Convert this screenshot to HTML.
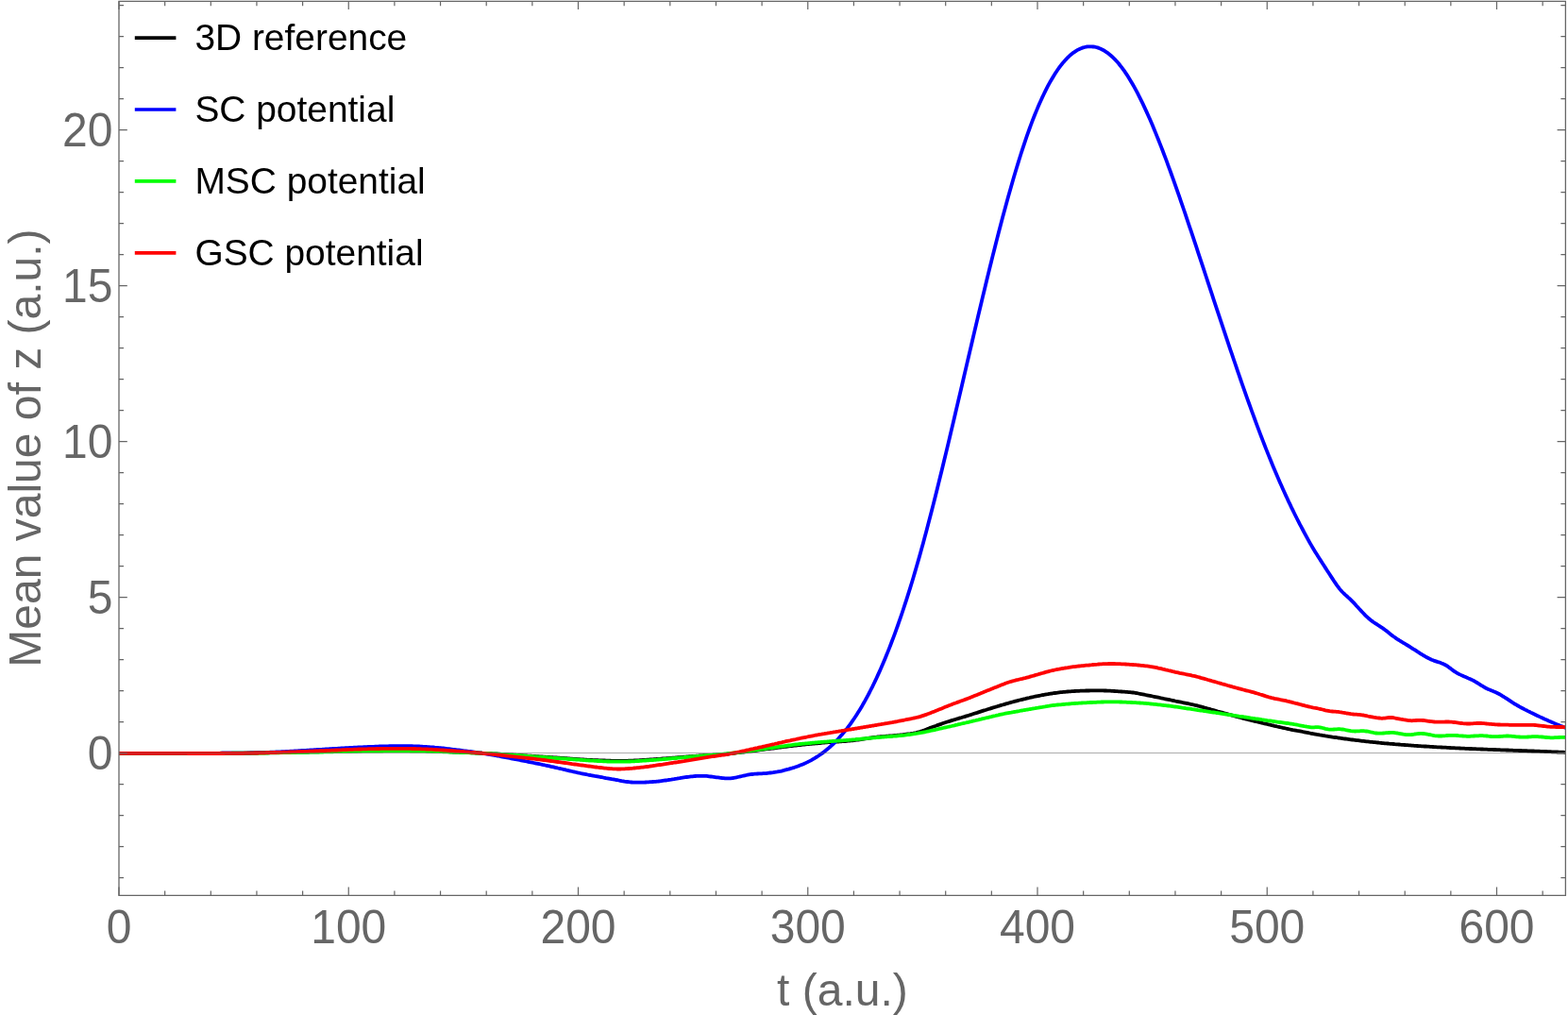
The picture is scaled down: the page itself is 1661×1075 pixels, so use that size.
<!DOCTYPE html>
<html><head><meta charset="utf-8"><title>Mean value of z</title>
<style>
html,body{margin:0;padding:0;background:#fff;}
body{width:1661px;height:1075px;overflow:hidden;}
svg{display:block;}
text{font-family:"Liberation Sans",sans-serif;}
.tl{font-size:48px;fill:#666666;}
.al{font-size:48px;fill:#666666;}
.lg{font-size:38.9px;fill:#000;}
.c{fill:none;stroke-width:3.8;stroke-linejoin:round;stroke-linecap:butt;}
</style></head><body>
<svg width="1661" height="1075" viewBox="0 0 1661 1075">
<rect width="1661" height="1075" fill="#fff"/>
<defs><clipPath id="cp"><rect x="126.0" y="1.3" width="1532.4" height="947.1"/></clipPath></defs>

<g clip-path="url(#cp)">
<path class="c" stroke="#000" d="M120.0,797.8 L121.5,797.8 L123.0,797.8 L124.5,797.8 L126.0,797.8 L127.5,797.8 L129.0,797.8 L130.5,797.8 L132.0,797.8 L133.5,797.8 L135.0,797.8 L136.5,797.8 L138.0,797.8 L139.5,797.8 L141.0,797.8 L142.5,797.8 L144.0,797.8 L145.5,797.8 L147.0,797.8 L148.5,797.8 L150.0,797.8 L151.5,797.8 L153.0,797.8 L154.5,797.8 L156.0,797.8 L157.5,797.8 L159.0,797.8 L160.5,797.8 L162.0,797.8 L163.5,797.8 L165.0,797.8 L166.5,797.8 L168.0,797.8 L169.5,797.8 L171.0,797.8 L172.5,797.8 L174.0,797.8 L175.5,797.8 L177.0,797.8 L178.5,797.8 L180.0,797.8 L181.5,797.8 L183.0,797.8 L184.5,797.8 L186.0,797.8 L187.5,797.8 L189.0,797.8 L190.5,797.8 L192.0,797.8 L193.5,797.8 L195.0,797.8 L196.5,797.8 L198.0,797.8 L199.5,797.8 L201.0,797.8 L202.5,797.8 L204.0,797.8 L205.5,797.8 L207.0,797.8 L208.5,797.8 L210.0,797.8 L211.5,797.8 L213.0,797.8 L214.5,797.8 L216.0,797.8 L217.5,797.8 L219.0,797.8 L220.5,797.8 L222.0,797.8 L223.5,797.8 L225.0,797.8 L226.5,797.8 L228.0,797.8 L229.5,797.8 L231.0,797.8 L232.5,797.8 L234.0,797.7 L235.5,797.7 L237.0,797.7 L238.5,797.7 L240.0,797.7 L241.5,797.7 L243.0,797.7 L244.5,797.7 L246.0,797.7 L247.5,797.7 L249.0,797.7 L250.5,797.7 L252.0,797.7 L253.5,797.6 L255.0,797.6 L256.5,797.6 L258.0,797.6 L259.5,797.6 L261.0,797.6 L262.5,797.6 L264.0,797.6 L265.5,797.5 L267.0,797.5 L268.5,797.5 L270.0,797.5 L271.5,797.5 L273.0,797.5 L274.5,797.4 L276.0,797.4 L277.5,797.4 L279.0,797.4 L280.5,797.3 L282.0,797.3 L283.5,797.3 L285.0,797.3 L286.5,797.2 L288.0,797.2 L289.5,797.2 L291.0,797.2 L292.5,797.1 L294.0,797.1 L295.5,797.1 L297.0,797.1 L298.5,797.0 L300.0,797.0 L301.5,797.0 L303.0,796.9 L304.5,796.9 L306.0,796.9 L307.5,796.9 L309.0,796.8 L310.5,796.8 L312.0,796.8 L313.5,796.7 L315.0,796.7 L316.5,796.7 L318.0,796.7 L319.5,796.6 L321.0,796.6 L322.5,796.6 L324.0,796.5 L325.5,796.5 L327.0,796.5 L328.5,796.4 L330.0,796.4 L331.5,796.4 L333.0,796.3 L334.5,796.3 L336.0,796.3 L337.5,796.3 L339.0,796.2 L340.5,796.2 L342.0,796.2 L343.5,796.1 L345.0,796.1 L346.5,796.1 L348.0,796.0 L349.5,796.0 L351.0,795.9 L352.5,795.9 L354.0,795.9 L355.5,795.8 L357.0,795.8 L358.5,795.8 L360.0,795.7 L361.5,795.7 L363.0,795.7 L364.5,795.6 L366.0,795.6 L367.5,795.6 L369.0,795.5 L370.5,795.5 L372.0,795.5 L373.5,795.4 L375.0,795.4 L376.5,795.4 L378.0,795.3 L379.5,795.3 L381.0,795.3 L382.5,795.3 L384.0,795.2 L385.5,795.2 L387.0,795.2 L388.5,795.2 L390.0,795.1 L391.5,795.1 L393.0,795.1 L394.5,795.1 L396.0,795.1 L397.5,795.0 L399.0,795.0 L400.5,795.0 L402.0,795.0 L403.5,795.0 L405.0,794.9 L406.5,794.9 L408.0,794.9 L409.5,794.9 L411.0,794.9 L412.5,794.9 L414.0,794.9 L415.5,794.9 L417.0,794.9 L418.5,794.9 L420.0,794.9 L421.5,794.9 L423.0,794.9 L424.5,794.9 L426.0,794.9 L427.5,794.9 L429.0,794.9 L430.5,794.9 L432.0,794.9 L433.5,794.9 L435.0,794.9 L436.5,795.0 L438.0,795.0 L439.5,795.0 L441.0,795.0 L442.5,795.0 L444.0,795.1 L445.5,795.1 L447.0,795.2 L448.5,795.2 L450.0,795.2 L451.5,795.3 L453.0,795.3 L454.5,795.4 L456.0,795.4 L457.5,795.5 L459.0,795.5 L460.5,795.6 L462.0,795.7 L463.5,795.7 L465.0,795.8 L466.5,795.8 L468.0,795.9 L469.5,796.0 L471.0,796.0 L472.5,796.1 L474.0,796.2 L475.5,796.2 L477.0,796.3 L478.5,796.4 L480.0,796.5 L481.5,796.5 L483.0,796.6 L484.5,796.7 L486.0,796.7 L487.5,796.8 L489.0,796.9 L490.5,796.9 L492.0,797.0 L493.5,797.0 L495.0,797.1 L496.5,797.2 L498.0,797.2 L499.5,797.3 L501.0,797.3 L502.5,797.4 L504.0,797.5 L505.5,797.5 L507.0,797.6 L508.5,797.6 L510.0,797.7 L511.5,797.8 L513.0,797.8 L514.5,797.9 L516.0,798.0 L517.5,798.0 L519.0,798.1 L520.5,798.2 L522.0,798.3 L523.5,798.3 L525.0,798.4 L526.5,798.5 L528.0,798.6 L529.5,798.7 L531.0,798.8 L532.5,798.8 L534.0,798.9 L535.5,799.0 L537.0,799.1 L538.5,799.2 L540.0,799.3 L541.5,799.4 L543.0,799.5 L544.5,799.6 L546.0,799.7 L547.5,799.8 L549.0,799.9 L550.5,800.0 L552.0,800.1 L553.5,800.2 L555.0,800.3 L556.5,800.4 L558.0,800.5 L559.5,800.6 L561.0,800.7 L562.5,800.7 L564.0,800.8 L565.5,800.9 L567.0,801.0 L568.5,801.1 L570.0,801.2 L571.5,801.3 L573.0,801.4 L574.5,801.5 L576.0,801.6 L577.5,801.7 L579.0,801.8 L580.5,801.9 L582.0,802.0 L583.5,802.1 L585.0,802.2 L586.5,802.3 L588.0,802.4 L589.5,802.5 L591.0,802.6 L592.5,802.7 L594.0,802.8 L595.5,802.9 L597.0,803.0 L598.5,803.1 L600.0,803.2 L601.5,803.4 L603.0,803.5 L604.5,803.6 L606.0,803.7 L607.5,803.8 L609.0,803.9 L610.5,804.0 L612.0,804.1 L613.5,804.2 L615.0,804.3 L616.5,804.4 L618.0,804.5 L619.5,804.6 L621.0,804.7 L622.5,804.8 L624.0,804.8 L625.5,804.9 L627.0,805.0 L628.5,805.1 L630.0,805.1 L631.5,805.2 L633.0,805.2 L634.5,805.3 L636.0,805.4 L637.5,805.4 L639.0,805.5 L640.5,805.5 L642.0,805.6 L643.5,805.6 L645.0,805.7 L646.5,805.7 L648.0,805.8 L649.5,805.8 L651.0,805.8 L652.5,805.9 L654.0,805.9 L655.5,805.9 L657.0,805.9 L658.5,805.9 L660.0,805.9 L661.5,805.9 L663.0,805.8 L664.5,805.8 L666.0,805.7 L667.5,805.7 L669.0,805.6 L670.5,805.6 L672.0,805.5 L673.5,805.4 L675.0,805.3 L676.5,805.3 L678.0,805.2 L679.5,805.1 L681.0,805.0 L682.5,804.9 L684.0,804.8 L685.5,804.7 L687.0,804.6 L688.5,804.5 L690.0,804.4 L691.5,804.3 L693.0,804.2 L694.5,804.1 L696.0,804.0 L697.5,803.9 L699.0,803.8 L700.5,803.6 L702.0,803.5 L703.5,803.4 L705.0,803.3 L706.5,803.2 L708.0,803.1 L709.5,802.9 L711.0,802.8 L712.5,802.7 L714.0,802.6 L715.5,802.5 L717.0,802.3 L718.5,802.2 L720.0,802.1 L721.5,802.0 L723.0,801.9 L724.5,801.7 L726.0,801.6 L727.5,801.5 L729.0,801.4 L730.5,801.2 L732.0,801.1 L733.5,801.0 L735.0,800.9 L736.5,800.8 L738.0,800.7 L739.5,800.6 L741.0,800.5 L742.5,800.4 L744.0,800.3 L745.5,800.2 L747.0,800.1 L748.5,800.1 L750.0,800.0 L751.5,799.9 L753.0,799.8 L754.5,799.8 L756.0,799.7 L757.5,799.6 L759.0,799.5 L760.5,799.4 L762.0,799.3 L763.5,799.2 L765.0,799.1 L766.5,799.0 L768.0,798.8 L769.5,798.7 L771.0,798.5 L772.5,798.3 L774.0,798.1 L775.5,798.0 L777.0,797.8 L778.5,797.6 L780.0,797.4 L781.5,797.2 L783.0,797.0 L784.5,796.9 L786.0,796.7 L787.5,796.5 L789.0,796.3 L790.5,796.1 L792.0,795.9 L793.5,795.7 L795.0,795.5 L796.5,795.3 L798.0,795.1 L799.5,795.0 L801.0,794.8 L802.5,794.6 L804.0,794.4 L805.5,794.2 L807.0,794.0 L808.5,793.8 L810.0,793.6 L811.5,793.4 L813.0,793.2 L814.5,793.0 L816.0,792.9 L817.5,792.7 L819.0,792.5 L820.5,792.3 L822.0,792.1 L823.5,791.9 L825.0,791.7 L826.5,791.5 L828.0,791.3 L829.5,791.1 L831.0,790.9 L832.5,790.8 L834.0,790.6 L835.5,790.4 L837.0,790.2 L838.5,790.0 L840.0,789.8 L841.5,789.6 L843.0,789.5 L844.5,789.3 L846.0,789.1 L847.5,789.0 L849.0,788.8 L850.5,788.7 L852.0,788.5 L853.5,788.4 L855.0,788.2 L856.5,788.1 L858.0,787.9 L859.5,787.8 L861.0,787.7 L862.5,787.5 L864.0,787.4 L865.5,787.3 L867.0,787.1 L868.5,787.0 L870.0,786.8 L871.5,786.7 L873.0,786.6 L874.5,786.4 L876.0,786.3 L877.5,786.2 L879.0,786.1 L880.5,786.0 L882.0,785.9 L883.5,785.8 L885.0,785.7 L886.5,785.6 L888.0,785.5 L889.5,785.4 L891.0,785.3 L892.5,785.2 L894.0,785.1 L895.5,785.0 L897.0,784.9 L898.5,784.7 L900.0,784.6 L901.5,784.4 L903.0,784.3 L904.5,784.1 L906.0,783.9 L907.5,783.7 L909.0,783.5 L910.5,783.3 L912.0,783.1 L913.5,782.8 L915.0,782.6 L916.5,782.4 L918.0,782.1 L919.5,781.9 L921.0,781.7 L922.5,781.5 L924.0,781.2 L925.5,781.0 L927.0,780.8 L928.5,780.7 L930.0,780.5 L931.5,780.3 L933.0,780.2 L934.5,780.1 L936.0,780.0 L937.5,779.8 L939.0,779.7 L940.5,779.6 L942.0,779.5 L943.5,779.4 L945.0,779.3 L946.5,779.1 L948.0,779.0 L949.5,778.9 L951.0,778.7 L952.5,778.6 L954.0,778.4 L955.5,778.3 L957.0,778.1 L958.5,777.9 L960.0,777.7 L961.5,777.5 L963.0,777.3 L964.5,777.1 L966.0,776.8 L967.5,776.6 L969.0,776.3 L970.5,776.1 L972.0,775.7 L973.5,775.3 L975.0,774.9 L976.5,774.4 L978.0,773.8 L979.5,773.3 L981.0,772.7 L982.5,772.1 L984.0,771.5 L985.5,770.8 L987.0,770.3 L988.5,769.7 L990.0,769.2 L991.5,768.7 L993.0,768.1 L994.5,767.6 L996.0,767.1 L997.5,766.6 L999.0,766.0 L1000.5,765.5 L1002.0,765.0 L1003.5,764.5 L1005.0,764.1 L1006.5,763.6 L1008.0,763.1 L1009.5,762.7 L1011.0,762.2 L1012.5,761.8 L1014.0,761.3 L1015.5,760.9 L1017.0,760.4 L1018.5,760.0 L1020.0,759.5 L1021.5,759.1 L1023.0,758.6 L1024.5,758.2 L1026.0,757.7 L1027.5,757.2 L1029.0,756.8 L1030.5,756.3 L1032.0,755.8 L1033.5,755.3 L1035.0,754.9 L1036.5,754.4 L1038.0,753.9 L1039.5,753.4 L1041.0,752.9 L1042.5,752.4 L1044.0,752.0 L1045.5,751.5 L1047.0,751.0 L1048.5,750.6 L1050.0,750.1 L1051.5,749.6 L1053.0,749.2 L1054.5,748.7 L1056.0,748.3 L1057.5,747.8 L1059.0,747.4 L1060.5,746.9 L1062.0,746.5 L1063.5,746.1 L1065.0,745.6 L1066.5,745.2 L1068.0,744.8 L1069.5,744.3 L1071.0,743.9 L1072.5,743.5 L1074.0,743.1 L1075.5,742.7 L1077.0,742.3 L1078.5,741.9 L1080.0,741.5 L1081.5,741.2 L1083.0,740.8 L1084.5,740.4 L1086.0,740.1 L1087.5,739.7 L1089.0,739.3 L1090.5,739.0 L1092.0,738.6 L1093.5,738.3 L1095.0,738.0 L1096.5,737.7 L1098.0,737.4 L1099.5,737.1 L1101.0,736.8 L1102.5,736.5 L1104.0,736.2 L1105.5,736.0 L1107.0,735.7 L1108.5,735.4 L1110.0,735.2 L1111.5,734.9 L1113.0,734.7 L1114.5,734.5 L1116.0,734.2 L1117.5,734.0 L1119.0,733.8 L1120.5,733.6 L1122.0,733.4 L1123.5,733.2 L1125.0,733.1 L1126.5,732.9 L1128.0,732.8 L1129.5,732.6 L1131.0,732.5 L1132.5,732.4 L1134.0,732.3 L1135.5,732.2 L1137.0,732.1 L1138.5,732.0 L1140.0,731.9 L1141.5,731.8 L1143.0,731.8 L1144.5,731.7 L1146.0,731.7 L1147.5,731.6 L1149.0,731.6 L1150.5,731.5 L1152.0,731.5 L1153.5,731.5 L1155.0,731.4 L1156.5,731.4 L1158.0,731.4 L1159.5,731.4 L1161.0,731.4 L1162.5,731.4 L1164.0,731.4 L1165.5,731.4 L1167.0,731.4 L1168.5,731.4 L1170.0,731.5 L1171.5,731.5 L1173.0,731.6 L1174.5,731.6 L1176.0,731.7 L1177.5,731.8 L1179.0,731.9 L1180.5,732.0 L1182.0,732.1 L1183.5,732.2 L1185.0,732.3 L1186.5,732.4 L1188.0,732.5 L1189.5,732.6 L1191.0,732.7 L1192.5,732.8 L1194.0,732.9 L1195.5,733.1 L1197.0,733.2 L1198.5,733.4 L1200.0,733.5 L1201.5,733.7 L1203.0,734.0 L1204.5,734.2 L1206.0,734.5 L1207.5,734.8 L1209.0,735.1 L1210.5,735.4 L1212.0,735.7 L1213.5,736.0 L1215.0,736.3 L1216.5,736.6 L1218.0,736.9 L1219.5,737.2 L1221.0,737.5 L1222.5,737.8 L1224.0,738.1 L1225.5,738.4 L1227.0,738.7 L1228.5,739.0 L1230.0,739.4 L1231.5,739.7 L1233.0,740.0 L1234.5,740.3 L1236.0,740.6 L1237.5,740.9 L1239.0,741.2 L1240.5,741.5 L1242.0,741.8 L1243.5,742.1 L1245.0,742.5 L1246.5,742.8 L1248.0,743.1 L1249.5,743.4 L1251.0,743.7 L1252.5,744.0 L1254.0,744.3 L1255.5,744.6 L1257.0,744.9 L1258.5,745.2 L1260.0,745.5 L1261.5,745.9 L1263.0,746.2 L1264.5,746.5 L1266.0,746.9 L1267.5,747.2 L1269.0,747.6 L1270.5,748.0 L1272.0,748.4 L1273.5,748.8 L1275.0,749.2 L1276.5,749.7 L1278.0,750.1 L1279.5,750.5 L1281.0,750.9 L1282.5,751.4 L1284.0,751.8 L1285.5,752.2 L1287.0,752.6 L1288.5,753.0 L1290.0,753.5 L1291.5,753.9 L1293.0,754.3 L1294.5,754.7 L1296.0,755.1 L1297.5,755.5 L1299.0,755.9 L1300.5,756.3 L1302.0,756.8 L1303.5,757.2 L1305.0,757.6 L1306.5,758.0 L1308.0,758.4 L1309.5,758.8 L1311.0,759.2 L1312.5,759.6 L1314.0,760.0 L1315.5,760.4 L1317.0,760.8 L1318.5,761.2 L1320.0,761.6 L1321.5,761.9 L1323.0,762.3 L1324.5,762.7 L1326.0,763.1 L1327.5,763.4 L1329.0,763.8 L1330.5,764.2 L1332.0,764.5 L1333.5,764.9 L1335.0,765.2 L1336.5,765.6 L1338.0,766.0 L1339.5,766.3 L1341.0,766.7 L1342.5,767.0 L1344.0,767.4 L1345.5,767.7 L1347.0,768.1 L1348.5,768.4 L1350.0,768.8 L1351.5,769.1 L1353.0,769.5 L1354.5,769.8 L1356.0,770.2 L1357.5,770.5 L1359.0,770.9 L1360.5,771.2 L1362.0,771.5 L1363.5,771.8 L1365.0,772.2 L1366.5,772.5 L1368.0,772.8 L1369.5,773.1 L1371.0,773.3 L1372.5,773.6 L1374.0,773.9 L1375.5,774.1 L1377.0,774.4 L1378.5,774.7 L1380.0,775.0 L1381.5,775.3 L1383.0,775.6 L1384.5,775.9 L1386.0,776.2 L1387.5,776.5 L1389.0,776.8 L1390.5,777.0 L1392.0,777.3 L1393.5,777.6 L1395.0,777.9 L1396.5,778.1 L1398.0,778.4 L1399.5,778.6 L1401.0,778.9 L1402.5,779.1 L1404.0,779.4 L1405.5,779.6 L1407.0,779.9 L1408.5,780.1 L1410.0,780.3 L1411.5,780.6 L1413.0,780.8 L1414.5,781.0 L1416.0,781.2 L1417.5,781.5 L1419.0,781.7 L1420.5,781.9 L1422.0,782.1 L1423.5,782.3 L1425.0,782.5 L1426.5,782.7 L1428.0,782.9 L1429.5,783.1 L1431.0,783.3 L1432.5,783.5 L1434.0,783.7 L1435.5,783.9 L1437.0,784.1 L1438.5,784.2 L1440.0,784.4 L1441.5,784.6 L1443.0,784.8 L1444.5,784.9 L1446.0,785.1 L1447.5,785.3 L1449.0,785.4 L1450.5,785.6 L1452.0,785.8 L1453.5,785.9 L1455.0,786.1 L1456.5,786.2 L1458.0,786.4 L1459.5,786.5 L1461.0,786.7 L1462.5,786.8 L1464.0,787.0 L1465.5,787.1 L1467.0,787.3 L1468.5,787.4 L1470.0,787.5 L1471.5,787.7 L1473.0,787.8 L1474.5,787.9 L1476.0,788.0 L1477.5,788.2 L1479.0,788.3 L1480.5,788.4 L1482.0,788.5 L1483.5,788.7 L1485.0,788.8 L1486.5,788.9 L1488.0,789.0 L1489.5,789.1 L1491.0,789.2 L1492.5,789.3 L1494.0,789.4 L1495.5,789.6 L1497.0,789.7 L1498.5,789.8 L1500.0,789.9 L1501.5,790.0 L1503.0,790.1 L1504.5,790.2 L1506.0,790.3 L1507.5,790.4 L1509.0,790.5 L1510.5,790.5 L1512.0,790.6 L1513.5,790.7 L1515.0,790.8 L1516.5,790.9 L1518.0,791.0 L1519.5,791.1 L1521.0,791.2 L1522.5,791.3 L1524.0,791.3 L1525.5,791.4 L1527.0,791.5 L1528.5,791.6 L1530.0,791.7 L1531.5,791.7 L1533.0,791.8 L1534.5,791.9 L1536.0,792.0 L1537.5,792.1 L1539.0,792.1 L1540.5,792.2 L1542.0,792.3 L1543.5,792.3 L1545.0,792.4 L1546.5,792.5 L1548.0,792.6 L1549.5,792.6 L1551.0,792.7 L1552.5,792.8 L1554.0,792.8 L1555.5,792.9 L1557.0,793.0 L1558.5,793.0 L1560.0,793.1 L1561.5,793.2 L1563.0,793.2 L1564.5,793.3 L1566.0,793.3 L1567.5,793.4 L1569.0,793.5 L1570.5,793.5 L1572.0,793.6 L1573.5,793.6 L1575.0,793.7 L1576.5,793.8 L1578.0,793.8 L1579.5,793.9 L1581.0,793.9 L1582.5,794.0 L1584.0,794.0 L1585.5,794.1 L1587.0,794.2 L1588.5,794.2 L1590.0,794.3 L1591.5,794.3 L1593.0,794.4 L1594.5,794.4 L1596.0,794.5 L1597.5,794.5 L1599.0,794.6 L1600.5,794.7 L1602.0,794.7 L1603.5,794.8 L1605.0,794.8 L1606.5,794.9 L1608.0,794.9 L1609.5,795.0 L1611.0,795.0 L1612.5,795.1 L1614.0,795.1 L1615.5,795.2 L1617.0,795.2 L1618.5,795.3 L1620.0,795.4 L1621.5,795.4 L1623.0,795.5 L1624.5,795.5 L1626.0,795.6 L1627.5,795.6 L1629.0,795.7 L1630.5,795.7 L1632.0,795.8 L1633.5,795.9 L1635.0,795.9 L1636.5,796.0 L1638.0,796.0 L1639.5,796.1 L1641.0,796.1 L1642.5,796.2 L1644.0,796.3 L1645.5,796.3 L1647.0,796.4 L1648.5,796.4 L1650.0,796.5 L1651.5,796.6 L1653.0,796.6 L1654.5,796.7 L1656.0,796.7 L1657.5,796.8 L1659.0,796.9 L1660.5,796.9 L1662.0,797.0 L1663.5,797.1 L1664.0,797.1"/>
<path class="c" stroke="#0000ff" d="M120.0,797.8 L121.5,797.8 L123.0,797.8 L124.5,797.8 L126.0,797.8 L127.5,797.8 L129.0,797.8 L130.5,797.8 L132.0,797.8 L133.5,797.8 L135.0,797.8 L136.5,797.8 L138.0,797.8 L139.5,797.8 L141.0,797.8 L142.5,797.8 L144.0,797.8 L145.5,797.8 L147.0,797.8 L148.5,797.8 L150.0,797.8 L151.5,797.8 L153.0,797.8 L154.5,797.8 L156.0,797.8 L157.5,797.8 L159.0,797.8 L160.5,797.8 L162.0,797.8 L163.5,797.8 L165.0,797.8 L166.5,797.8 L168.0,797.8 L169.5,797.8 L171.0,797.8 L172.5,797.8 L174.0,797.8 L175.5,797.8 L177.0,797.8 L178.5,797.8 L180.0,797.8 L181.5,797.8 L183.0,797.8 L184.5,797.8 L186.0,797.8 L187.5,797.8 L189.0,797.8 L190.5,797.8 L192.0,797.8 L193.5,797.8 L195.0,797.8 L196.5,797.8 L198.0,797.8 L199.5,797.8 L201.0,797.8 L202.5,797.8 L204.0,797.8 L205.5,797.8 L207.0,797.8 L208.5,797.8 L210.0,797.8 L211.5,797.8 L213.0,797.8 L214.5,797.8 L216.0,797.8 L217.5,797.8 L219.0,797.8 L220.5,797.8 L222.0,797.8 L223.5,797.8 L225.0,797.8 L226.5,797.8 L228.0,797.8 L229.5,797.8 L231.0,797.8 L232.5,797.8 L234.0,797.8 L235.5,797.7 L237.0,797.7 L238.5,797.7 L240.0,797.7 L241.5,797.7 L243.0,797.7 L244.5,797.7 L246.0,797.7 L247.5,797.7 L249.0,797.7 L250.5,797.7 L252.0,797.7 L253.5,797.7 L255.0,797.7 L256.5,797.6 L258.0,797.6 L259.5,797.6 L261.0,797.6 L262.5,797.5 L264.0,797.5 L265.5,797.5 L267.0,797.4 L268.5,797.4 L270.0,797.3 L271.5,797.3 L273.0,797.2 L274.5,797.2 L276.0,797.1 L277.5,797.1 L279.0,797.0 L280.5,797.0 L282.0,796.9 L283.5,796.9 L285.0,796.8 L286.5,796.7 L288.0,796.7 L289.5,796.6 L291.0,796.6 L292.5,796.5 L294.0,796.4 L295.5,796.4 L297.0,796.3 L298.5,796.2 L300.0,796.1 L301.5,796.1 L303.0,796.0 L304.5,795.9 L306.0,795.8 L307.5,795.7 L309.0,795.7 L310.5,795.6 L312.0,795.5 L313.5,795.4 L315.0,795.3 L316.5,795.2 L318.0,795.1 L319.5,795.0 L321.0,794.9 L322.5,794.9 L324.0,794.8 L325.5,794.7 L327.0,794.6 L328.5,794.5 L330.0,794.4 L331.5,794.3 L333.0,794.2 L334.5,794.1 L336.0,794.0 L337.5,794.0 L339.0,793.9 L340.5,793.8 L342.0,793.7 L343.5,793.6 L345.0,793.5 L346.5,793.4 L348.0,793.3 L349.5,793.2 L351.0,793.1 L352.5,793.0 L354.0,793.0 L355.5,792.9 L357.0,792.8 L358.5,792.7 L360.0,792.6 L361.5,792.5 L363.0,792.4 L364.5,792.3 L366.0,792.2 L367.5,792.1 L369.0,792.1 L370.5,792.0 L372.0,791.9 L373.5,791.8 L375.0,791.7 L376.5,791.6 L378.0,791.6 L379.5,791.5 L381.0,791.4 L382.5,791.3 L384.0,791.3 L385.5,791.2 L387.0,791.1 L388.5,791.1 L390.0,791.0 L391.5,790.9 L393.0,790.9 L394.5,790.8 L396.0,790.8 L397.5,790.7 L399.0,790.6 L400.5,790.6 L402.0,790.5 L403.5,790.5 L405.0,790.4 L406.5,790.4 L408.0,790.3 L409.5,790.3 L411.0,790.3 L412.5,790.2 L414.0,790.2 L415.5,790.2 L417.0,790.2 L418.5,790.1 L420.0,790.1 L421.5,790.1 L423.0,790.1 L424.5,790.1 L426.0,790.1 L427.5,790.1 L429.0,790.1 L430.5,790.1 L432.0,790.1 L433.5,790.2 L435.0,790.2 L436.5,790.2 L438.0,790.3 L439.5,790.4 L441.0,790.4 L442.5,790.5 L444.0,790.5 L445.5,790.6 L447.0,790.7 L448.5,790.8 L450.0,790.9 L451.5,791.0 L453.0,791.1 L454.5,791.2 L456.0,791.3 L457.5,791.4 L459.0,791.5 L460.5,791.7 L462.0,791.8 L463.5,791.9 L465.0,792.1 L466.5,792.2 L468.0,792.4 L469.5,792.5 L471.0,792.7 L472.5,792.9 L474.0,793.1 L475.5,793.2 L477.0,793.4 L478.5,793.6 L480.0,793.8 L481.5,793.9 L483.0,794.1 L484.5,794.3 L486.0,794.5 L487.5,794.7 L489.0,794.9 L490.5,795.1 L492.0,795.3 L493.5,795.4 L495.0,795.6 L496.5,795.8 L498.0,796.0 L499.5,796.2 L501.0,796.4 L502.5,796.6 L504.0,796.8 L505.5,797.0 L507.0,797.3 L508.5,797.5 L510.0,797.7 L511.5,797.9 L513.0,798.2 L514.5,798.4 L516.0,798.6 L517.5,798.9 L519.0,799.2 L520.5,799.4 L522.0,799.7 L523.5,799.9 L525.0,800.2 L526.5,800.5 L528.0,800.7 L529.5,801.0 L531.0,801.3 L532.5,801.6 L534.0,801.9 L535.5,802.1 L537.0,802.4 L538.5,802.7 L540.0,803.0 L541.5,803.3 L543.0,803.6 L544.5,803.9 L546.0,804.2 L547.5,804.4 L549.0,804.7 L550.5,805.0 L552.0,805.3 L553.5,805.6 L555.0,805.9 L556.5,806.2 L558.0,806.5 L559.5,806.8 L561.0,807.1 L562.5,807.4 L564.0,807.7 L565.5,808.0 L567.0,808.3 L568.5,808.6 L570.0,808.9 L571.5,809.2 L573.0,809.5 L574.5,809.9 L576.0,810.2 L577.5,810.5 L579.0,810.8 L580.5,811.1 L582.0,811.4 L583.5,811.8 L585.0,812.1 L586.5,812.4 L588.0,812.8 L589.5,813.1 L591.0,813.5 L592.5,813.8 L594.0,814.2 L595.5,814.5 L597.0,814.9 L598.5,815.2 L600.0,815.6 L601.5,815.9 L603.0,816.3 L604.5,816.7 L606.0,817.0 L607.5,817.3 L609.0,817.7 L610.5,818.0 L612.0,818.4 L613.5,818.7 L615.0,819.0 L616.5,819.3 L618.0,819.6 L619.5,819.9 L621.0,820.2 L622.5,820.5 L624.0,820.8 L625.5,821.0 L627.0,821.3 L628.5,821.6 L630.0,821.9 L631.5,822.1 L633.0,822.4 L634.5,822.7 L636.0,823.0 L637.5,823.2 L639.0,823.5 L640.5,823.8 L642.0,824.1 L643.5,824.3 L645.0,824.6 L646.5,824.9 L648.0,825.2 L649.5,825.4 L651.0,825.7 L652.5,826.0 L654.0,826.2 L655.5,826.5 L657.0,826.8 L658.5,827.1 L660.0,827.3 L661.5,827.6 L663.0,827.8 L664.5,828.0 L666.0,828.2 L667.5,828.4 L669.0,828.5 L670.5,828.6 L672.0,828.6 L673.5,828.7 L675.0,828.7 L676.5,828.7 L678.0,828.7 L679.5,828.7 L681.0,828.6 L682.5,828.6 L684.0,828.5 L685.5,828.4 L687.0,828.3 L688.5,828.2 L690.0,828.1 L691.5,828.0 L693.0,827.9 L694.5,827.8 L696.0,827.6 L697.5,827.5 L699.0,827.3 L700.5,827.1 L702.0,826.9 L703.5,826.7 L705.0,826.5 L706.5,826.3 L708.0,826.0 L709.5,825.8 L711.0,825.6 L712.5,825.3 L714.0,825.1 L715.5,824.8 L717.0,824.6 L718.5,824.3 L720.0,824.1 L721.5,823.8 L723.0,823.6 L724.5,823.4 L726.0,823.2 L727.5,823.0 L729.0,822.8 L730.5,822.6 L732.0,822.4 L733.5,822.3 L735.0,822.1 L736.5,822.0 L738.0,821.9 L739.5,821.9 L741.0,821.8 L742.5,821.8 L744.0,821.8 L745.5,821.8 L747.0,821.8 L748.5,821.9 L750.0,822.1 L751.5,822.3 L753.0,822.5 L754.5,822.7 L756.0,822.9 L757.5,823.1 L759.0,823.3 L760.5,823.4 L762.0,823.6 L763.5,823.8 L765.0,824.0 L766.5,824.1 L768.0,824.3 L769.5,824.4 L771.0,824.4 L772.5,824.3 L774.0,824.3 L775.5,824.1 L777.0,824.0 L778.5,823.7 L780.0,823.4 L781.5,823.0 L783.0,822.7 L784.5,822.3 L786.0,822.0 L787.5,821.7 L789.0,821.3 L790.5,821.0 L792.0,820.7 L793.5,820.4 L795.0,820.2 L796.5,820.0 L798.0,819.8 L799.5,819.7 L801.0,819.6 L802.5,819.5 L804.0,819.4 L805.5,819.3 L807.0,819.3 L808.5,819.2 L810.0,819.2 L811.5,819.1 L813.0,818.9 L814.5,818.7 L816.0,818.5 L817.5,818.3 L819.0,818.1 L820.5,817.8 L822.0,817.6 L823.5,817.4 L825.0,817.1 L826.5,816.9 L828.0,816.6 L829.5,816.2 L831.0,815.7 L832.5,815.3 L834.0,814.9 L835.5,814.6 L837.0,814.1 L838.5,813.7 L840.0,813.2 L841.5,812.8 L843.0,812.3 L844.5,811.8 L846.0,811.2 L847.5,810.6 L849.0,810.0 L850.5,809.4 L852.0,808.8 L853.5,808.1 L855.0,807.4 L856.5,806.6 L858.0,805.9 L859.5,805.1 L861.0,804.2 L862.5,803.3 L864.0,802.4 L865.5,801.5 L867.0,800.5 L868.5,799.5 L870.0,798.4 L871.5,797.4 L873.0,796.2 L874.5,795.0 L876.0,793.8 L877.5,792.6 L879.0,791.3 L880.5,789.9 L882.0,788.5 L883.5,787.1 L885.0,785.6 L886.5,784.1 L888.0,782.5 L889.5,780.8 L891.0,779.1 L892.5,777.4 L894.0,775.6 L895.5,773.8 L897.0,771.9 L898.5,769.9 L900.0,767.9 L901.5,765.8 L903.0,763.7 L904.5,761.5 L906.0,759.3 L907.5,757.0 L909.0,754.6 L910.5,752.2 L912.0,749.7 L913.5,747.2 L915.0,744.5 L916.5,741.9 L918.0,739.1 L919.5,736.3 L921.0,733.5 L922.5,730.5 L924.0,727.6 L925.5,724.5 L927.0,721.4 L928.5,718.2 L930.0,714.9 L931.5,711.6 L933.0,708.3 L934.5,704.8 L936.0,701.3 L937.5,697.7 L939.0,694.1 L940.5,690.4 L942.0,686.6 L943.5,682.7 L945.0,678.8 L946.5,674.8 L948.0,670.8 L949.5,666.6 L951.0,662.5 L952.5,658.2 L954.0,653.9 L955.5,649.5 L957.0,645.0 L958.5,640.4 L960.0,635.8 L961.5,631.2 L963.0,626.4 L964.5,621.6 L966.0,616.7 L967.5,611.7 L969.0,606.6 L970.5,601.5 L972.0,596.3 L973.5,591.1 L975.0,585.7 L976.5,580.3 L978.0,574.9 L979.5,569.3 L981.0,563.7 L982.5,558.1 L984.0,552.3 L985.5,546.6 L987.0,540.8 L988.5,534.9 L990.0,529.0 L991.5,523.0 L993.0,517.0 L994.5,510.9 L996.0,504.8 L997.5,498.7 L999.0,492.5 L1000.5,486.3 L1002.0,480.1 L1003.5,473.9 L1005.0,467.6 L1006.5,461.3 L1008.0,454.9 L1009.5,448.6 L1011.0,442.2 L1012.5,435.8 L1014.0,429.4 L1015.5,423.0 L1017.0,416.6 L1018.5,410.2 L1020.0,403.7 L1021.5,397.3 L1023.0,390.9 L1024.5,384.4 L1026.0,378.0 L1027.5,371.6 L1029.0,365.2 L1030.5,358.7 L1032.0,352.4 L1033.5,346.0 L1035.0,339.6 L1036.5,333.3 L1038.0,327.0 L1039.5,320.7 L1041.0,314.4 L1042.5,308.2 L1044.0,302.0 L1045.5,295.8 L1047.0,289.6 L1048.5,283.5 L1050.0,277.5 L1051.5,271.4 L1053.0,265.5 L1054.5,259.5 L1056.0,253.6 L1057.5,247.8 L1059.0,242.0 L1060.5,236.3 L1062.0,230.6 L1063.5,225.0 L1065.0,219.4 L1066.5,214.0 L1068.0,208.5 L1069.5,203.2 L1071.0,197.9 L1072.5,192.7 L1074.0,187.5 L1075.5,182.5 L1077.0,177.5 L1078.5,172.6 L1080.0,167.7 L1081.5,163.0 L1083.0,158.4 L1084.5,153.8 L1086.0,149.3 L1087.5,144.9 L1089.0,140.7 L1090.5,136.5 L1092.0,132.4 L1093.5,128.4 L1095.0,124.5 L1096.5,120.8 L1098.0,117.1 L1099.5,113.5 L1101.0,110.0 L1102.5,106.7 L1104.0,103.4 L1105.5,100.2 L1107.0,97.1 L1108.5,94.1 L1110.0,91.2 L1111.5,88.4 L1113.0,85.8 L1114.5,83.2 L1116.0,80.7 L1117.5,78.3 L1119.0,76.0 L1120.5,73.8 L1122.0,71.7 L1123.5,69.6 L1125.0,67.7 L1126.5,65.9 L1128.0,64.2 L1129.5,62.6 L1131.0,61.0 L1132.5,59.6 L1134.0,58.2 L1135.5,57.0 L1137.0,55.8 L1138.5,54.8 L1140.0,53.8 L1141.5,52.9 L1143.0,52.2 L1144.5,51.5 L1146.0,50.9 L1147.5,50.4 L1149.0,50.0 L1150.5,49.7 L1152.0,49.4 L1153.5,49.3 L1155.0,49.3 L1156.5,49.3 L1158.0,49.5 L1159.5,49.7 L1161.0,50.0 L1162.5,50.4 L1164.0,50.9 L1165.5,51.5 L1167.0,52.2 L1168.5,53.0 L1170.0,53.8 L1171.5,54.8 L1173.0,55.8 L1174.5,57.0 L1176.0,58.2 L1177.5,59.5 L1179.0,60.9 L1180.5,62.4 L1182.0,63.9 L1183.5,65.6 L1185.0,67.3 L1186.5,69.2 L1188.0,71.1 L1189.5,73.1 L1191.0,75.2 L1192.5,77.4 L1194.0,79.6 L1195.5,82.0 L1197.0,84.4 L1198.5,86.9 L1200.0,89.5 L1201.5,92.2 L1203.0,94.9 L1204.5,97.7 L1206.0,100.6 L1207.5,103.6 L1209.0,106.6 L1210.5,109.7 L1212.0,112.9 L1213.5,116.1 L1215.0,119.4 L1216.5,122.7 L1218.0,126.1 L1219.5,129.6 L1221.0,133.1 L1222.5,136.7 L1224.0,140.4 L1225.5,144.1 L1227.0,147.8 L1228.5,151.6 L1230.0,155.4 L1231.5,159.3 L1233.0,163.2 L1234.5,167.2 L1236.0,171.2 L1237.5,175.3 L1239.0,179.4 L1240.5,183.5 L1242.0,187.7 L1243.5,191.9 L1245.0,196.1 L1246.5,200.3 L1248.0,204.6 L1249.5,208.9 L1251.0,213.3 L1252.5,217.6 L1254.0,222.0 L1255.5,226.4 L1257.0,230.9 L1258.5,235.3 L1260.0,239.8 L1261.5,244.2 L1263.0,248.7 L1264.5,253.2 L1266.0,257.7 L1267.5,262.2 L1269.0,266.8 L1270.5,271.3 L1272.0,275.8 L1273.5,280.4 L1275.0,284.9 L1276.5,289.5 L1278.0,294.0 L1279.5,298.6 L1281.0,303.1 L1282.5,307.7 L1284.0,312.2 L1285.5,316.8 L1287.0,321.3 L1288.5,325.8 L1290.0,330.4 L1291.5,334.9 L1293.0,339.4 L1294.5,343.9 L1296.0,348.4 L1297.5,352.9 L1299.0,357.4 L1300.5,361.9 L1302.0,366.4 L1303.5,370.8 L1305.0,375.2 L1306.5,379.6 L1308.0,384.0 L1309.5,388.4 L1311.0,392.8 L1312.5,397.2 L1314.0,401.5 L1315.5,405.8 L1317.0,410.1 L1318.5,414.3 L1320.0,418.6 L1321.5,422.8 L1323.0,427.0 L1324.5,431.2 L1326.0,435.3 L1327.5,439.4 L1329.0,443.5 L1330.5,447.6 L1332.0,451.6 L1333.5,455.6 L1335.0,459.6 L1336.5,463.5 L1338.0,467.4 L1339.5,471.3 L1341.0,475.1 L1342.5,478.9 L1344.0,482.6 L1345.5,486.3 L1347.0,490.0 L1348.5,493.7 L1350.0,497.3 L1351.5,500.8 L1353.0,504.3 L1354.5,507.8 L1356.0,511.2 L1357.5,514.6 L1359.0,518.0 L1360.5,521.3 L1362.0,524.6 L1363.5,527.8 L1365.0,531.1 L1366.5,534.2 L1368.0,537.4 L1369.5,540.4 L1371.0,543.5 L1372.5,546.5 L1374.0,549.5 L1375.5,552.4 L1377.0,555.4 L1378.5,558.2 L1380.0,561.0 L1381.5,563.9 L1383.0,566.7 L1384.5,569.4 L1386.0,572.1 L1387.5,574.8 L1389.0,577.4 L1390.5,579.9 L1392.0,582.4 L1393.5,584.9 L1395.0,587.3 L1396.5,589.7 L1398.0,592.1 L1399.5,594.4 L1401.0,596.7 L1402.5,599.1 L1404.0,601.4 L1405.5,603.7 L1407.0,606.0 L1408.5,608.3 L1410.0,610.6 L1411.5,612.9 L1413.0,615.2 L1414.5,617.4 L1416.0,619.6 L1417.5,621.6 L1419.0,623.6 L1420.5,625.4 L1422.0,627.0 L1423.5,628.5 L1425.0,629.9 L1426.5,631.2 L1428.0,632.6 L1429.5,633.9 L1431.0,635.4 L1432.5,636.9 L1434.0,638.4 L1435.5,640.0 L1437.0,641.7 L1438.5,643.3 L1440.0,645.0 L1441.5,646.6 L1443.0,648.2 L1444.5,649.8 L1446.0,651.4 L1447.5,652.8 L1449.0,654.2 L1450.5,655.5 L1452.0,656.8 L1453.5,657.9 L1455.0,659.0 L1456.5,660.0 L1458.0,660.9 L1459.5,661.9 L1461.0,662.8 L1462.5,663.8 L1464.0,664.8 L1465.5,665.9 L1467.0,667.0 L1468.5,668.1 L1470.0,669.3 L1471.5,670.5 L1473.0,671.7 L1474.5,672.9 L1476.0,674.0 L1477.5,675.0 L1479.0,676.1 L1480.5,677.1 L1482.0,678.0 L1483.5,679.0 L1485.0,679.9 L1486.5,680.8 L1488.0,681.7 L1489.5,682.6 L1491.0,683.5 L1492.5,684.4 L1494.0,685.4 L1495.5,686.3 L1497.0,687.3 L1498.5,688.2 L1500.0,689.2 L1501.5,690.2 L1503.0,691.1 L1504.5,692.1 L1506.0,693.0 L1507.5,694.0 L1509.0,694.8 L1510.5,695.7 L1512.0,696.5 L1513.5,697.3 L1515.0,698.0 L1516.5,698.7 L1518.0,699.3 L1519.5,699.9 L1521.0,700.4 L1522.5,700.9 L1524.0,701.3 L1525.5,701.8 L1527.0,702.4 L1528.5,703.0 L1530.0,703.7 L1531.5,704.5 L1533.0,705.4 L1534.5,706.5 L1536.0,707.6 L1537.5,708.8 L1539.0,709.9 L1540.5,711.0 L1542.0,711.9 L1543.5,712.8 L1545.0,713.7 L1546.5,714.4 L1548.0,715.1 L1549.5,715.8 L1551.0,716.5 L1552.5,717.1 L1554.0,717.7 L1555.5,718.4 L1557.0,719.0 L1558.5,719.7 L1560.0,720.4 L1561.5,721.2 L1563.0,722.1 L1564.5,723.0 L1566.0,723.9 L1567.5,724.8 L1569.0,725.8 L1570.5,726.7 L1572.0,727.6 L1573.5,728.5 L1575.0,729.3 L1576.5,730.0 L1578.0,730.6 L1579.5,731.2 L1581.0,731.8 L1582.5,732.4 L1584.0,733.0 L1585.5,733.7 L1587.0,734.5 L1588.5,735.3 L1590.0,736.1 L1591.5,737.1 L1593.0,738.0 L1594.5,739.0 L1596.0,739.9 L1597.5,740.9 L1599.0,741.9 L1600.5,742.9 L1602.0,743.9 L1603.5,744.8 L1605.0,745.8 L1606.5,746.6 L1608.0,747.5 L1609.5,748.4 L1611.0,749.2 L1612.5,750.0 L1614.0,750.8 L1615.5,751.6 L1617.0,752.3 L1618.5,753.1 L1620.0,753.8 L1621.5,754.6 L1623.0,755.3 L1624.5,756.0 L1626.0,756.7 L1627.5,757.5 L1629.0,758.2 L1630.5,758.9 L1632.0,759.6 L1633.5,760.3 L1635.0,761.0 L1636.5,761.7 L1638.0,762.3 L1639.5,763.0 L1641.0,763.7 L1642.5,764.3 L1644.0,765.0 L1645.5,765.6 L1647.0,766.3 L1648.5,766.9 L1650.0,767.5 L1651.5,768.1 L1653.0,768.8 L1654.5,769.3 L1656.0,769.9 L1657.5,770.5 L1659.0,771.1 L1660.5,771.6 L1662.0,772.2 L1663.5,772.7 L1664.0,772.9"/>
<path class="c" stroke="#00ff00" d="M120.0,797.8 L121.5,797.8 L123.0,797.8 L124.5,797.8 L126.0,797.8 L127.5,797.8 L129.0,797.8 L130.5,797.8 L132.0,797.8 L133.5,797.8 L135.0,797.8 L136.5,797.8 L138.0,797.8 L139.5,797.8 L141.0,797.8 L142.5,797.8 L144.0,797.8 L145.5,797.8 L147.0,797.8 L148.5,797.8 L150.0,797.8 L151.5,797.8 L153.0,797.8 L154.5,797.8 L156.0,797.8 L157.5,797.8 L159.0,797.8 L160.5,797.8 L162.0,797.8 L163.5,797.8 L165.0,797.8 L166.5,797.8 L168.0,797.8 L169.5,797.8 L171.0,797.8 L172.5,797.8 L174.0,797.8 L175.5,797.8 L177.0,797.8 L178.5,797.8 L180.0,797.8 L181.5,797.8 L183.0,797.8 L184.5,797.8 L186.0,797.8 L187.5,797.8 L189.0,797.8 L190.5,797.8 L192.0,797.8 L193.5,797.8 L195.0,797.8 L196.5,797.8 L198.0,797.8 L199.5,797.8 L201.0,797.8 L202.5,797.8 L204.0,797.8 L205.5,797.8 L207.0,797.8 L208.5,797.8 L210.0,797.8 L211.5,797.8 L213.0,797.8 L214.5,797.8 L216.0,797.8 L217.5,797.8 L219.0,797.8 L220.5,797.8 L222.0,797.8 L223.5,797.8 L225.0,797.8 L226.5,797.8 L228.0,797.8 L229.5,797.8 L231.0,797.8 L232.5,797.8 L234.0,797.8 L235.5,797.8 L237.0,797.8 L238.5,797.8 L240.0,797.8 L241.5,797.8 L243.0,797.8 L244.5,797.8 L246.0,797.7 L247.5,797.7 L249.0,797.7 L250.5,797.7 L252.0,797.7 L253.5,797.7 L255.0,797.7 L256.5,797.7 L258.0,797.7 L259.5,797.7 L261.0,797.7 L262.5,797.7 L264.0,797.7 L265.5,797.7 L267.0,797.7 L268.5,797.6 L270.0,797.6 L271.5,797.6 L273.0,797.6 L274.5,797.6 L276.0,797.6 L277.5,797.5 L279.0,797.5 L280.5,797.5 L282.0,797.5 L283.5,797.5 L285.0,797.4 L286.5,797.4 L288.0,797.4 L289.5,797.4 L291.0,797.3 L292.5,797.3 L294.0,797.3 L295.5,797.3 L297.0,797.2 L298.5,797.2 L300.0,797.2 L301.5,797.2 L303.0,797.2 L304.5,797.1 L306.0,797.1 L307.5,797.1 L309.0,797.0 L310.5,797.0 L312.0,797.0 L313.5,797.0 L315.0,796.9 L316.5,796.9 L318.0,796.9 L319.5,796.9 L321.0,796.8 L322.5,796.8 L324.0,796.8 L325.5,796.8 L327.0,796.7 L328.5,796.7 L330.0,796.7 L331.5,796.7 L333.0,796.6 L334.5,796.6 L336.0,796.6 L337.5,796.5 L339.0,796.5 L340.5,796.5 L342.0,796.5 L343.5,796.4 L345.0,796.4 L346.5,796.4 L348.0,796.3 L349.5,796.3 L351.0,796.3 L352.5,796.3 L354.0,796.2 L355.5,796.2 L357.0,796.2 L358.5,796.1 L360.0,796.1 L361.5,796.1 L363.0,796.0 L364.5,796.0 L366.0,796.0 L367.5,795.9 L369.0,795.9 L370.5,795.9 L372.0,795.9 L373.5,795.8 L375.0,795.8 L376.5,795.8 L378.0,795.8 L379.5,795.7 L381.0,795.7 L382.5,795.7 L384.0,795.7 L385.5,795.7 L387.0,795.6 L388.5,795.6 L390.0,795.6 L391.5,795.6 L393.0,795.6 L394.5,795.6 L396.0,795.5 L397.5,795.5 L399.0,795.5 L400.5,795.5 L402.0,795.5 L403.5,795.5 L405.0,795.5 L406.5,795.4 L408.0,795.4 L409.5,795.4 L411.0,795.4 L412.5,795.4 L414.0,795.4 L415.5,795.4 L417.0,795.4 L418.5,795.4 L420.0,795.4 L421.5,795.4 L423.0,795.4 L424.5,795.4 L426.0,795.4 L427.5,795.4 L429.0,795.4 L430.5,795.4 L432.0,795.4 L433.5,795.4 L435.0,795.5 L436.5,795.5 L438.0,795.5 L439.5,795.5 L441.0,795.5 L442.5,795.6 L444.0,795.6 L445.5,795.6 L447.0,795.6 L448.5,795.7 L450.0,795.7 L451.5,795.7 L453.0,795.8 L454.5,795.8 L456.0,795.9 L457.5,795.9 L459.0,795.9 L460.5,796.0 L462.0,796.0 L463.5,796.1 L465.0,796.1 L466.5,796.2 L468.0,796.2 L469.5,796.3 L471.0,796.3 L472.5,796.4 L474.0,796.4 L475.5,796.5 L477.0,796.5 L478.5,796.6 L480.0,796.6 L481.5,796.7 L483.0,796.8 L484.5,796.8 L486.0,796.9 L487.5,796.9 L489.0,797.0 L490.5,797.0 L492.0,797.1 L493.5,797.1 L495.0,797.2 L496.5,797.2 L498.0,797.3 L499.5,797.3 L501.0,797.4 L502.5,797.4 L504.0,797.5 L505.5,797.5 L507.0,797.6 L508.5,797.6 L510.0,797.7 L511.5,797.8 L513.0,797.8 L514.5,797.9 L516.0,798.0 L517.5,798.0 L519.0,798.1 L520.5,798.2 L522.0,798.3 L523.5,798.4 L525.0,798.5 L526.5,798.6 L528.0,798.7 L529.5,798.8 L531.0,798.9 L532.5,799.0 L534.0,799.1 L535.5,799.2 L537.0,799.3 L538.5,799.4 L540.0,799.5 L541.5,799.6 L543.0,799.7 L544.5,799.8 L546.0,799.9 L547.5,800.0 L549.0,800.1 L550.5,800.2 L552.0,800.3 L553.5,800.4 L555.0,800.5 L556.5,800.6 L558.0,800.8 L559.5,800.9 L561.0,801.0 L562.5,801.1 L564.0,801.2 L565.5,801.3 L567.0,801.4 L568.5,801.5 L570.0,801.6 L571.5,801.7 L573.0,801.8 L574.5,801.9 L576.0,802.0 L577.5,802.1 L579.0,802.2 L580.5,802.3 L582.0,802.4 L583.5,802.5 L585.0,802.7 L586.5,802.8 L588.0,802.9 L589.5,803.0 L591.0,803.1 L592.5,803.2 L594.0,803.3 L595.5,803.4 L597.0,803.5 L598.5,803.6 L600.0,803.7 L601.5,803.9 L603.0,804.0 L604.5,804.1 L606.0,804.2 L607.5,804.3 L609.0,804.4 L610.5,804.5 L612.0,804.6 L613.5,804.7 L615.0,804.8 L616.5,804.9 L618.0,805.1 L619.5,805.2 L621.0,805.3 L622.5,805.4 L624.0,805.5 L625.5,805.6 L627.0,805.6 L628.5,805.7 L630.0,805.8 L631.5,805.9 L633.0,806.0 L634.5,806.0 L636.0,806.1 L637.5,806.2 L639.0,806.3 L640.5,806.3 L642.0,806.4 L643.5,806.5 L645.0,806.5 L646.5,806.6 L648.0,806.6 L649.5,806.7 L651.0,806.7 L652.5,806.7 L654.0,806.7 L655.5,806.7 L657.0,806.7 L658.5,806.7 L660.0,806.7 L661.5,806.7 L663.0,806.6 L664.5,806.6 L666.0,806.5 L667.5,806.5 L669.0,806.4 L670.5,806.3 L672.0,806.3 L673.5,806.2 L675.0,806.1 L676.5,806.0 L678.0,805.9 L679.5,805.8 L681.0,805.7 L682.5,805.6 L684.0,805.5 L685.5,805.4 L687.0,805.3 L688.5,805.2 L690.0,805.1 L691.5,805.0 L693.0,804.9 L694.5,804.8 L696.0,804.7 L697.5,804.5 L699.0,804.4 L700.5,804.3 L702.0,804.2 L703.5,804.0 L705.0,803.9 L706.5,803.8 L708.0,803.6 L709.5,803.5 L711.0,803.4 L712.5,803.2 L714.0,803.1 L715.5,803.0 L717.0,802.8 L718.5,802.7 L720.0,802.6 L721.5,802.4 L723.0,802.3 L724.5,802.2 L726.0,802.0 L727.5,801.9 L729.0,801.8 L730.5,801.6 L732.0,801.5 L733.5,801.4 L735.0,801.2 L736.5,801.1 L738.0,801.0 L739.5,800.8 L741.0,800.7 L742.5,800.6 L744.0,800.5 L745.5,800.3 L747.0,800.2 L748.5,800.1 L750.0,800.0 L751.5,799.9 L753.0,799.8 L754.5,799.7 L756.0,799.5 L757.5,799.4 L759.0,799.3 L760.5,799.2 L762.0,799.0 L763.5,798.9 L765.0,798.8 L766.5,798.6 L768.0,798.5 L769.5,798.4 L771.0,798.2 L772.5,798.0 L774.0,797.9 L775.5,797.7 L777.0,797.5 L778.5,797.3 L780.0,797.2 L781.5,797.0 L783.0,796.8 L784.5,796.6 L786.0,796.4 L787.5,796.2 L789.0,796.0 L790.5,795.8 L792.0,795.5 L793.5,795.3 L795.0,795.1 L796.5,794.9 L798.0,794.7 L799.5,794.5 L801.0,794.3 L802.5,794.1 L804.0,793.9 L805.5,793.7 L807.0,793.5 L808.5,793.3 L810.0,793.1 L811.5,792.8 L813.0,792.6 L814.5,792.4 L816.0,792.2 L817.5,792.0 L819.0,791.8 L820.5,791.6 L822.0,791.4 L823.5,791.1 L825.0,790.9 L826.5,790.7 L828.0,790.5 L829.5,790.3 L831.0,790.1 L832.5,789.9 L834.0,789.7 L835.5,789.5 L837.0,789.3 L838.5,789.1 L840.0,788.9 L841.5,788.7 L843.0,788.5 L844.5,788.4 L846.0,788.2 L847.5,788.0 L849.0,787.9 L850.5,787.7 L852.0,787.6 L853.5,787.4 L855.0,787.3 L856.5,787.1 L858.0,787.0 L859.5,786.8 L861.0,786.7 L862.5,786.6 L864.0,786.4 L865.5,786.3 L867.0,786.2 L868.5,786.1 L870.0,785.9 L871.5,785.8 L873.0,785.7 L874.5,785.6 L876.0,785.5 L877.5,785.3 L879.0,785.2 L880.5,785.1 L882.0,785.0 L883.5,784.9 L885.0,784.8 L886.5,784.7 L888.0,784.6 L889.5,784.5 L891.0,784.4 L892.5,784.3 L894.0,784.2 L895.5,784.1 L897.0,783.9 L898.5,783.8 L900.0,783.7 L901.5,783.6 L903.0,783.4 L904.5,783.3 L906.0,783.2 L907.5,783.0 L909.0,782.9 L910.5,782.8 L912.0,782.6 L913.5,782.5 L915.0,782.4 L916.5,782.2 L918.0,782.1 L919.5,781.9 L921.0,781.8 L922.5,781.7 L924.0,781.5 L925.5,781.4 L927.0,781.3 L928.5,781.1 L930.0,781.0 L931.5,780.9 L933.0,780.8 L934.5,780.6 L936.0,780.5 L937.5,780.4 L939.0,780.3 L940.5,780.2 L942.0,780.1 L943.5,780.0 L945.0,779.8 L946.5,779.7 L948.0,779.6 L949.5,779.5 L951.0,779.4 L952.5,779.2 L954.0,779.1 L955.5,778.9 L957.0,778.8 L958.5,778.6 L960.0,778.4 L961.5,778.2 L963.0,778.0 L964.5,777.8 L966.0,777.6 L967.5,777.4 L969.0,777.2 L970.5,776.9 L972.0,776.7 L973.5,776.4 L975.0,776.1 L976.5,775.9 L978.0,775.6 L979.5,775.3 L981.0,775.0 L982.5,774.7 L984.0,774.4 L985.5,774.0 L987.0,773.7 L988.5,773.4 L990.0,773.1 L991.5,772.7 L993.0,772.4 L994.5,772.0 L996.0,771.7 L997.5,771.4 L999.0,771.0 L1000.5,770.7 L1002.0,770.3 L1003.5,770.0 L1005.0,769.7 L1006.5,769.3 L1008.0,769.0 L1009.5,768.6 L1011.0,768.3 L1012.5,767.9 L1014.0,767.6 L1015.5,767.2 L1017.0,766.9 L1018.5,766.5 L1020.0,766.2 L1021.5,765.8 L1023.0,765.5 L1024.5,765.1 L1026.0,764.8 L1027.5,764.4 L1029.0,764.1 L1030.5,763.7 L1032.0,763.3 L1033.5,763.0 L1035.0,762.6 L1036.5,762.3 L1038.0,761.9 L1039.5,761.6 L1041.0,761.2 L1042.5,760.9 L1044.0,760.5 L1045.5,760.1 L1047.0,759.8 L1048.5,759.4 L1050.0,759.1 L1051.5,758.7 L1053.0,758.3 L1054.5,758.0 L1056.0,757.6 L1057.5,757.3 L1059.0,756.9 L1060.5,756.6 L1062.0,756.3 L1063.5,756.0 L1065.0,755.7 L1066.5,755.4 L1068.0,755.1 L1069.5,754.8 L1071.0,754.6 L1072.5,754.3 L1074.0,754.0 L1075.5,753.8 L1077.0,753.5 L1078.5,753.3 L1080.0,753.0 L1081.5,752.7 L1083.0,752.5 L1084.5,752.2 L1086.0,752.0 L1087.5,751.7 L1089.0,751.5 L1090.5,751.2 L1092.0,751.0 L1093.5,750.7 L1095.0,750.4 L1096.5,750.2 L1098.0,749.9 L1099.5,749.7 L1101.0,749.4 L1102.5,749.1 L1104.0,748.9 L1105.5,748.6 L1107.0,748.4 L1108.5,748.1 L1110.0,747.9 L1111.5,747.7 L1113.0,747.4 L1114.5,747.2 L1116.0,747.0 L1117.5,746.9 L1119.0,746.7 L1120.5,746.5 L1122.0,746.4 L1123.5,746.3 L1125.0,746.1 L1126.5,746.0 L1128.0,745.9 L1129.5,745.7 L1131.0,745.6 L1132.5,745.5 L1134.0,745.4 L1135.5,745.2 L1137.0,745.1 L1138.5,745.0 L1140.0,744.9 L1141.5,744.8 L1143.0,744.7 L1144.5,744.6 L1146.0,744.5 L1147.5,744.4 L1149.0,744.3 L1150.5,744.3 L1152.0,744.2 L1153.5,744.1 L1155.0,744.0 L1156.5,744.0 L1158.0,743.9 L1159.5,743.8 L1161.0,743.8 L1162.5,743.7 L1164.0,743.6 L1165.5,743.6 L1167.0,743.5 L1168.5,743.5 L1170.0,743.4 L1171.5,743.4 L1173.0,743.3 L1174.5,743.3 L1176.0,743.3 L1177.5,743.3 L1179.0,743.3 L1180.5,743.3 L1182.0,743.4 L1183.5,743.4 L1185.0,743.4 L1186.5,743.5 L1188.0,743.5 L1189.5,743.6 L1191.0,743.7 L1192.5,743.7 L1194.0,743.8 L1195.5,743.8 L1197.0,743.9 L1198.5,744.0 L1200.0,744.1 L1201.5,744.1 L1203.0,744.2 L1204.5,744.3 L1206.0,744.4 L1207.5,744.5 L1209.0,744.6 L1210.5,744.7 L1212.0,744.8 L1213.5,744.9 L1215.0,745.1 L1216.5,745.2 L1218.0,745.3 L1219.5,745.5 L1221.0,745.6 L1222.5,745.8 L1224.0,745.9 L1225.5,746.1 L1227.0,746.3 L1228.5,746.4 L1230.0,746.6 L1231.5,746.8 L1233.0,747.0 L1234.5,747.1 L1236.0,747.3 L1237.5,747.5 L1239.0,747.7 L1240.5,747.9 L1242.0,748.1 L1243.5,748.3 L1245.0,748.5 L1246.5,748.7 L1248.0,748.9 L1249.5,749.1 L1251.0,749.3 L1252.5,749.6 L1254.0,749.8 L1255.5,750.0 L1257.0,750.3 L1258.5,750.5 L1260.0,750.7 L1261.5,750.9 L1263.0,751.2 L1264.5,751.4 L1266.0,751.6 L1267.5,751.8 L1269.0,752.1 L1270.5,752.3 L1272.0,752.5 L1273.5,752.7 L1275.0,753.0 L1276.5,753.2 L1278.0,753.4 L1279.5,753.6 L1281.0,753.8 L1282.5,754.1 L1284.0,754.3 L1285.5,754.5 L1287.0,754.7 L1288.5,755.0 L1290.0,755.2 L1291.5,755.4 L1293.0,755.6 L1294.5,755.9 L1296.0,756.1 L1297.5,756.3 L1299.0,756.5 L1300.5,756.8 L1302.0,757.0 L1303.5,757.2 L1305.0,757.4 L1306.5,757.7 L1308.0,757.9 L1309.5,758.1 L1311.0,758.3 L1312.5,758.6 L1314.0,758.8 L1315.5,759.0 L1317.0,759.2 L1318.5,759.5 L1320.0,759.7 L1321.5,759.9 L1323.0,760.1 L1324.5,760.4 L1326.0,760.6 L1327.5,760.8 L1329.0,761.0 L1330.5,761.3 L1332.0,761.5 L1333.5,761.7 L1335.0,761.9 L1336.5,762.2 L1338.0,762.4 L1339.5,762.6 L1341.0,762.8 L1342.5,763.1 L1344.0,763.3 L1345.5,763.5 L1347.0,763.7 L1348.5,764.0 L1350.0,764.2 L1351.5,764.4 L1353.0,764.6 L1354.5,764.8 L1356.0,765.0 L1357.5,765.2 L1359.0,765.4 L1360.5,765.6 L1362.0,765.8 L1363.5,766.0 L1365.0,766.2 L1366.5,766.5 L1368.0,766.7 L1369.5,766.9 L1371.0,767.2 L1372.5,767.4 L1374.0,767.7 L1375.5,768.0 L1377.0,768.3 L1378.5,768.6 L1380.0,768.9 L1381.5,769.2 L1383.0,769.4 L1384.5,769.7 L1386.0,769.9 L1387.5,770.1 L1389.0,770.3 L1390.5,770.3 L1392.0,770.3 L1393.5,770.2 L1395.0,770.1 L1396.5,770.2 L1398.0,770.3 L1399.5,770.6 L1401.0,771.0 L1402.5,771.4 L1404.0,771.8 L1405.5,772.1 L1407.0,772.4 L1408.5,772.6 L1410.0,772.6 L1411.5,772.6 L1413.0,772.5 L1414.5,772.4 L1416.0,772.3 L1417.5,772.2 L1419.0,772.2 L1420.5,772.3 L1422.0,772.5 L1423.5,772.7 L1425.0,773.0 L1426.5,773.3 L1428.0,773.6 L1429.5,773.9 L1431.0,774.2 L1432.5,774.3 L1434.0,774.4 L1435.5,774.5 L1437.0,774.4 L1438.5,774.3 L1440.0,774.3 L1441.5,774.2 L1443.0,774.1 L1444.5,774.2 L1446.0,774.3 L1447.5,774.5 L1449.0,774.7 L1450.5,775.0 L1452.0,775.4 L1453.5,775.7 L1455.0,776.0 L1456.5,776.3 L1458.0,776.5 L1459.5,776.7 L1461.0,776.7 L1462.5,776.7 L1464.0,776.7 L1465.5,776.5 L1467.0,776.4 L1468.5,776.2 L1470.0,776.1 L1471.5,776.0 L1473.0,775.9 L1474.5,775.9 L1476.0,775.9 L1477.5,776.1 L1479.0,776.3 L1480.5,776.5 L1482.0,776.8 L1483.5,777.1 L1485.0,777.4 L1486.5,777.7 L1488.0,777.9 L1489.5,778.1 L1491.0,778.2 L1492.5,778.2 L1494.0,778.1 L1495.5,778.0 L1497.0,777.8 L1498.5,777.5 L1500.0,777.3 L1501.5,777.1 L1503.0,777.0 L1504.5,776.9 L1506.0,776.9 L1507.5,777.0 L1509.0,777.2 L1510.5,777.4 L1512.0,777.7 L1513.5,778.0 L1515.0,778.2 L1516.5,778.5 L1518.0,778.8 L1519.5,779.1 L1521.0,779.3 L1522.5,779.4 L1524.0,779.5 L1525.5,779.5 L1527.0,779.5 L1528.5,779.4 L1530.0,779.3 L1531.5,779.2 L1533.0,779.0 L1534.5,778.9 L1536.0,778.8 L1537.5,778.8 L1539.0,778.8 L1540.5,778.9 L1542.0,778.9 L1543.5,779.0 L1545.0,779.2 L1546.5,779.3 L1548.0,779.4 L1549.5,779.5 L1551.0,779.6 L1552.5,779.7 L1554.0,779.8 L1555.5,779.8 L1557.0,779.8 L1558.5,779.7 L1560.0,779.6 L1561.5,779.5 L1563.0,779.4 L1564.5,779.4 L1566.0,779.3 L1567.5,779.2 L1569.0,779.2 L1570.5,779.2 L1572.0,779.3 L1573.5,779.4 L1575.0,779.5 L1576.5,779.7 L1578.0,779.8 L1579.5,780.0 L1581.0,780.1 L1582.5,780.2 L1584.0,780.2 L1585.5,780.2 L1587.0,780.1 L1588.5,780.0 L1590.0,779.9 L1591.5,779.8 L1593.0,779.6 L1594.5,779.6 L1596.0,779.5 L1597.5,779.5 L1599.0,779.6 L1600.5,779.7 L1602.0,779.8 L1603.5,779.9 L1605.0,780.1 L1606.5,780.3 L1608.0,780.4 L1609.5,780.5 L1611.0,780.6 L1612.5,780.7 L1614.0,780.7 L1615.5,780.7 L1617.0,780.6 L1618.5,780.5 L1620.0,780.4 L1621.5,780.3 L1623.0,780.2 L1624.5,780.1 L1626.0,780.1 L1627.5,780.1 L1629.0,780.2 L1630.5,780.3 L1632.0,780.4 L1633.5,780.5 L1635.0,780.7 L1636.5,780.9 L1638.0,781.0 L1639.5,781.2 L1641.0,781.2 L1642.5,781.3 L1644.0,781.3 L1645.5,781.3 L1647.0,781.2 L1648.5,781.1 L1650.0,781.1 L1651.5,781.0 L1653.0,780.9 L1654.5,780.9 L1656.0,780.8 L1657.5,780.8 L1659.0,780.8 L1660.5,780.8 L1662.0,780.8 L1663.5,780.8 L1664.0,780.8"/>
<path class="c" stroke="#ff0000" d="M120.0,797.8 L121.5,797.8 L123.0,797.8 L124.5,797.8 L126.0,797.8 L127.5,797.8 L129.0,797.8 L130.5,797.8 L132.0,797.8 L133.5,797.8 L135.0,797.8 L136.5,797.8 L138.0,797.8 L139.5,797.8 L141.0,797.8 L142.5,797.8 L144.0,797.8 L145.5,797.8 L147.0,797.8 L148.5,797.8 L150.0,797.8 L151.5,797.8 L153.0,797.8 L154.5,797.8 L156.0,797.9 L157.5,797.9 L159.0,797.9 L160.5,797.9 L162.0,797.9 L163.5,797.9 L165.0,797.9 L166.5,797.9 L168.0,797.9 L169.5,797.9 L171.0,797.9 L172.5,797.9 L174.0,797.9 L175.5,797.9 L177.0,797.9 L178.5,797.9 L180.0,797.9 L181.5,797.9 L183.0,797.9 L184.5,797.9 L186.0,797.9 L187.5,797.9 L189.0,797.9 L190.5,797.9 L192.0,797.9 L193.5,797.9 L195.0,797.9 L196.5,797.9 L198.0,797.9 L199.5,798.0 L201.0,798.0 L202.5,798.0 L204.0,798.0 L205.5,798.0 L207.0,798.0 L208.5,798.0 L210.0,798.0 L211.5,798.0 L213.0,798.0 L214.5,798.0 L216.0,798.0 L217.5,798.0 L219.0,798.0 L220.5,798.0 L222.0,798.0 L223.5,798.0 L225.0,798.0 L226.5,798.0 L228.0,798.0 L229.5,798.0 L231.0,798.0 L232.5,798.0 L234.0,798.0 L235.5,798.0 L237.0,798.0 L238.5,797.9 L240.0,797.9 L241.5,797.9 L243.0,797.9 L244.5,797.9 L246.0,797.9 L247.5,797.9 L249.0,797.9 L250.5,797.8 L252.0,797.8 L253.5,797.8 L255.0,797.8 L256.5,797.8 L258.0,797.8 L259.5,797.7 L261.0,797.7 L262.5,797.7 L264.0,797.7 L265.5,797.6 L267.0,797.6 L268.5,797.6 L270.0,797.5 L271.5,797.5 L273.0,797.5 L274.5,797.4 L276.0,797.4 L277.5,797.4 L279.0,797.3 L280.5,797.3 L282.0,797.2 L283.5,797.2 L285.0,797.2 L286.5,797.1 L288.0,797.1 L289.5,797.1 L291.0,797.0 L292.5,797.0 L294.0,796.9 L295.5,796.9 L297.0,796.8 L298.5,796.8 L300.0,796.7 L301.5,796.7 L303.0,796.6 L304.5,796.6 L306.0,796.5 L307.5,796.5 L309.0,796.4 L310.5,796.4 L312.0,796.3 L313.5,796.3 L315.0,796.2 L316.5,796.2 L318.0,796.1 L319.5,796.0 L321.0,796.0 L322.5,795.9 L324.0,795.9 L325.5,795.8 L327.0,795.7 L328.5,795.7 L330.0,795.6 L331.5,795.6 L333.0,795.5 L334.5,795.4 L336.0,795.4 L337.5,795.3 L339.0,795.2 L340.5,795.2 L342.0,795.1 L343.5,795.1 L345.0,795.0 L346.5,794.9 L348.0,794.9 L349.5,794.8 L351.0,794.7 L352.5,794.7 L354.0,794.6 L355.5,794.5 L357.0,794.5 L358.5,794.4 L360.0,794.3 L361.5,794.3 L363.0,794.2 L364.5,794.1 L366.0,794.1 L367.5,794.0 L369.0,793.9 L370.5,793.9 L372.0,793.8 L373.5,793.8 L375.0,793.7 L376.5,793.7 L378.0,793.6 L379.5,793.5 L381.0,793.5 L382.5,793.5 L384.0,793.4 L385.5,793.4 L387.0,793.3 L388.5,793.3 L390.0,793.2 L391.5,793.2 L393.0,793.2 L394.5,793.1 L396.0,793.1 L397.5,793.1 L399.0,793.0 L400.5,793.0 L402.0,793.0 L403.5,792.9 L405.0,792.9 L406.5,792.9 L408.0,792.9 L409.5,792.8 L411.0,792.8 L412.5,792.8 L414.0,792.8 L415.5,792.8 L417.0,792.8 L418.5,792.8 L420.0,792.8 L421.5,792.8 L423.0,792.8 L424.5,792.8 L426.0,792.8 L427.5,792.8 L429.0,792.8 L430.5,792.9 L432.0,792.9 L433.5,792.9 L435.0,792.9 L436.5,793.0 L438.0,793.0 L439.5,793.0 L441.0,793.1 L442.5,793.1 L444.0,793.2 L445.5,793.2 L447.0,793.3 L448.5,793.3 L450.0,793.4 L451.5,793.5 L453.0,793.5 L454.5,793.6 L456.0,793.7 L457.5,793.7 L459.0,793.8 L460.5,793.9 L462.0,794.0 L463.5,794.1 L465.0,794.2 L466.5,794.3 L468.0,794.4 L469.5,794.5 L471.0,794.6 L472.5,794.7 L474.0,794.8 L475.5,794.9 L477.0,795.0 L478.5,795.1 L480.0,795.2 L481.5,795.3 L483.0,795.5 L484.5,795.6 L486.0,795.7 L487.5,795.8 L489.0,795.9 L490.5,796.0 L492.0,796.2 L493.5,796.3 L495.0,796.4 L496.5,796.5 L498.0,796.7 L499.5,796.8 L501.0,796.9 L502.5,797.0 L504.0,797.2 L505.5,797.3 L507.0,797.4 L508.5,797.6 L510.0,797.7 L511.5,797.8 L513.0,798.0 L514.5,798.1 L516.0,798.3 L517.5,798.4 L519.0,798.6 L520.5,798.7 L522.0,798.9 L523.5,799.0 L525.0,799.2 L526.5,799.3 L528.0,799.5 L529.5,799.7 L531.0,799.8 L532.5,800.0 L534.0,800.1 L535.5,800.3 L537.0,800.5 L538.5,800.6 L540.0,800.8 L541.5,801.0 L543.0,801.1 L544.5,801.3 L546.0,801.5 L547.5,801.6 L549.0,801.8 L550.5,802.0 L552.0,802.1 L553.5,802.3 L555.0,802.5 L556.5,802.7 L558.0,802.8 L559.5,803.0 L561.0,803.2 L562.5,803.4 L564.0,803.5 L565.5,803.7 L567.0,803.9 L568.5,804.1 L570.0,804.3 L571.5,804.4 L573.0,804.6 L574.5,804.8 L576.0,805.0 L577.5,805.2 L579.0,805.4 L580.5,805.6 L582.0,805.8 L583.5,806.0 L585.0,806.2 L586.5,806.4 L588.0,806.6 L589.5,806.8 L591.0,807.0 L592.5,807.2 L594.0,807.4 L595.5,807.6 L597.0,807.8 L598.5,808.0 L600.0,808.2 L601.5,808.4 L603.0,808.6 L604.5,808.8 L606.0,809.1 L607.5,809.3 L609.0,809.5 L610.5,809.7 L612.0,809.9 L613.5,810.1 L615.0,810.3 L616.5,810.5 L618.0,810.7 L619.5,810.9 L621.0,811.1 L622.5,811.3 L624.0,811.5 L625.5,811.7 L627.0,811.9 L628.5,812.1 L630.0,812.3 L631.5,812.5 L633.0,812.7 L634.5,812.8 L636.0,813.0 L637.5,813.2 L639.0,813.4 L640.5,813.6 L642.0,813.7 L643.5,813.9 L645.0,814.0 L646.5,814.1 L648.0,814.2 L649.5,814.3 L651.0,814.4 L652.5,814.4 L654.0,814.5 L655.5,814.5 L657.0,814.5 L658.5,814.4 L660.0,814.4 L661.5,814.3 L663.0,814.2 L664.5,814.1 L666.0,814.0 L667.5,813.9 L669.0,813.8 L670.5,813.7 L672.0,813.5 L673.5,813.4 L675.0,813.2 L676.5,813.1 L678.0,812.9 L679.5,812.7 L681.0,812.6 L682.5,812.4 L684.0,812.2 L685.5,812.0 L687.0,811.8 L688.5,811.5 L690.0,811.3 L691.5,811.1 L693.0,810.9 L694.5,810.7 L696.0,810.4 L697.5,810.2 L699.0,810.0 L700.5,809.8 L702.0,809.6 L703.5,809.3 L705.0,809.1 L706.5,808.9 L708.0,808.7 L709.5,808.4 L711.0,808.2 L712.5,808.0 L714.0,807.7 L715.5,807.5 L717.0,807.3 L718.5,807.0 L720.0,806.8 L721.5,806.6 L723.0,806.3 L724.5,806.1 L726.0,805.8 L727.5,805.6 L729.0,805.4 L730.5,805.1 L732.0,804.9 L733.5,804.6 L735.0,804.4 L736.5,804.1 L738.0,803.9 L739.5,803.6 L741.0,803.4 L742.5,803.1 L744.0,802.9 L745.5,802.6 L747.0,802.4 L748.5,802.2 L750.0,801.9 L751.5,801.7 L753.0,801.4 L754.5,801.2 L756.0,801.0 L757.5,800.8 L759.0,800.6 L760.5,800.4 L762.0,800.2 L763.5,800.0 L765.0,799.7 L766.5,799.5 L768.0,799.3 L769.5,799.0 L771.0,798.8 L772.5,798.5 L774.0,798.2 L775.5,797.9 L777.0,797.6 L778.5,797.3 L780.0,797.0 L781.5,796.7 L783.0,796.4 L784.5,796.0 L786.0,795.7 L787.5,795.4 L789.0,795.1 L790.5,794.7 L792.0,794.4 L793.5,794.1 L795.0,793.7 L796.5,793.4 L798.0,793.1 L799.5,792.7 L801.0,792.4 L802.5,792.1 L804.0,791.7 L805.5,791.4 L807.0,791.1 L808.5,790.7 L810.0,790.4 L811.5,790.0 L813.0,789.7 L814.5,789.4 L816.0,789.0 L817.5,788.7 L819.0,788.3 L820.5,788.0 L822.0,787.6 L823.5,787.3 L825.0,786.9 L826.5,786.6 L828.0,786.3 L829.5,785.9 L831.0,785.6 L832.5,785.2 L834.0,784.9 L835.5,784.6 L837.0,784.3 L838.5,783.9 L840.0,783.6 L841.5,783.3 L843.0,783.0 L844.5,782.6 L846.0,782.3 L847.5,782.0 L849.0,781.7 L850.5,781.4 L852.0,781.1 L853.5,780.8 L855.0,780.5 L856.5,780.2 L858.0,779.9 L859.5,779.6 L861.0,779.3 L862.5,779.0 L864.0,778.7 L865.5,778.5 L867.0,778.2 L868.5,777.9 L870.0,777.7 L871.5,777.4 L873.0,777.2 L874.5,776.9 L876.0,776.7 L877.5,776.4 L879.0,776.2 L880.5,775.9 L882.0,775.7 L883.5,775.4 L885.0,775.2 L886.5,774.9 L888.0,774.7 L889.5,774.4 L891.0,774.2 L892.5,773.9 L894.0,773.7 L895.5,773.4 L897.0,773.2 L898.5,772.9 L900.0,772.7 L901.5,772.5 L903.0,772.2 L904.5,772.0 L906.0,771.7 L907.5,771.5 L909.0,771.2 L910.5,771.0 L912.0,770.7 L913.5,770.5 L915.0,770.2 L916.5,770.0 L918.0,769.7 L919.5,769.5 L921.0,769.2 L922.5,769.0 L924.0,768.7 L925.5,768.5 L927.0,768.2 L928.5,768.0 L930.0,767.7 L931.5,767.4 L933.0,767.2 L934.5,766.9 L936.0,766.7 L937.5,766.4 L939.0,766.1 L940.5,765.9 L942.0,765.6 L943.5,765.3 L945.0,765.1 L946.5,764.8 L948.0,764.5 L949.5,764.3 L951.0,764.0 L952.5,763.7 L954.0,763.4 L955.5,763.1 L957.0,762.8 L958.5,762.5 L960.0,762.2 L961.5,761.9 L963.0,761.6 L964.5,761.3 L966.0,761.0 L967.5,760.7 L969.0,760.3 L970.5,760.0 L972.0,759.7 L973.5,759.3 L975.0,758.9 L976.5,758.4 L978.0,757.9 L979.5,757.4 L981.0,756.9 L982.5,756.3 L984.0,755.8 L985.5,755.2 L987.0,754.6 L988.5,754.0 L990.0,753.4 L991.5,752.8 L993.0,752.2 L994.5,751.6 L996.0,751.0 L997.5,750.4 L999.0,749.8 L1000.5,749.1 L1002.0,748.5 L1003.5,747.9 L1005.0,747.3 L1006.5,746.8 L1008.0,746.2 L1009.5,745.6 L1011.0,745.0 L1012.5,744.5 L1014.0,743.9 L1015.5,743.4 L1017.0,742.8 L1018.5,742.3 L1020.0,741.8 L1021.5,741.2 L1023.0,740.6 L1024.5,740.1 L1026.0,739.5 L1027.5,738.9 L1029.0,738.3 L1030.5,737.7 L1032.0,737.1 L1033.5,736.5 L1035.0,735.9 L1036.5,735.3 L1038.0,734.7 L1039.5,734.1 L1041.0,733.5 L1042.5,732.8 L1044.0,732.2 L1045.5,731.6 L1047.0,731.0 L1048.5,730.4 L1050.0,729.8 L1051.5,729.2 L1053.0,728.6 L1054.5,728.0 L1056.0,727.4 L1057.5,726.8 L1059.0,726.2 L1060.5,725.6 L1062.0,725.0 L1063.5,724.4 L1065.0,723.8 L1066.5,723.3 L1068.0,722.8 L1069.5,722.3 L1071.0,721.8 L1072.5,721.4 L1074.0,721.0 L1075.5,720.6 L1077.0,720.2 L1078.5,719.9 L1080.0,719.5 L1081.5,719.1 L1083.0,718.8 L1084.5,718.4 L1086.0,718.1 L1087.5,717.7 L1089.0,717.3 L1090.5,716.9 L1092.0,716.4 L1093.5,716.0 L1095.0,715.6 L1096.5,715.1 L1098.0,714.7 L1099.5,714.3 L1101.0,713.8 L1102.5,713.4 L1104.0,713.0 L1105.5,712.6 L1107.0,712.1 L1108.5,711.7 L1110.0,711.3 L1111.5,710.9 L1113.0,710.5 L1114.5,710.2 L1116.0,709.8 L1117.5,709.5 L1119.0,709.2 L1120.5,708.8 L1122.0,708.6 L1123.5,708.3 L1125.0,708.0 L1126.5,707.8 L1128.0,707.5 L1129.5,707.3 L1131.0,707.1 L1132.5,706.8 L1134.0,706.6 L1135.5,706.4 L1137.0,706.2 L1138.5,706.1 L1140.0,705.9 L1141.5,705.7 L1143.0,705.5 L1144.5,705.4 L1146.0,705.2 L1147.5,705.1 L1149.0,704.9 L1150.5,704.7 L1152.0,704.6 L1153.5,704.5 L1155.0,704.3 L1156.5,704.2 L1158.0,704.0 L1159.5,703.9 L1161.0,703.8 L1162.5,703.7 L1164.0,703.5 L1165.5,703.4 L1167.0,703.3 L1168.5,703.2 L1170.0,703.2 L1171.5,703.1 L1173.0,703.1 L1174.5,703.0 L1176.0,703.0 L1177.5,703.0 L1179.0,703.0 L1180.5,703.0 L1182.0,703.1 L1183.5,703.1 L1185.0,703.1 L1186.5,703.2 L1188.0,703.3 L1189.5,703.3 L1191.0,703.4 L1192.5,703.5 L1194.0,703.6 L1195.5,703.7 L1197.0,703.8 L1198.5,703.9 L1200.0,704.0 L1201.5,704.1 L1203.0,704.2 L1204.5,704.4 L1206.0,704.5 L1207.5,704.6 L1209.0,704.8 L1210.5,704.9 L1212.0,705.1 L1213.5,705.3 L1215.0,705.4 L1216.5,705.6 L1218.0,705.9 L1219.5,706.1 L1221.0,706.3 L1222.5,706.6 L1224.0,706.9 L1225.5,707.2 L1227.0,707.6 L1228.5,707.9 L1230.0,708.2 L1231.5,708.6 L1233.0,708.9 L1234.5,709.3 L1236.0,709.6 L1237.5,710.0 L1239.0,710.3 L1240.5,710.7 L1242.0,711.1 L1243.5,711.4 L1245.0,711.8 L1246.5,712.1 L1248.0,712.4 L1249.5,712.8 L1251.0,713.1 L1252.5,713.4 L1254.0,713.7 L1255.5,714.0 L1257.0,714.3 L1258.5,714.6 L1260.0,714.9 L1261.5,715.2 L1263.0,715.6 L1264.5,715.9 L1266.0,716.2 L1267.5,716.6 L1269.0,717.0 L1270.5,717.4 L1272.0,717.9 L1273.5,718.3 L1275.0,718.7 L1276.5,719.1 L1278.0,719.5 L1279.5,720.0 L1281.0,720.4 L1282.5,720.8 L1284.0,721.3 L1285.5,721.7 L1287.0,722.1 L1288.5,722.5 L1290.0,723.0 L1291.5,723.4 L1293.0,723.8 L1294.5,724.3 L1296.0,724.7 L1297.5,725.1 L1299.0,725.5 L1300.5,726.0 L1302.0,726.4 L1303.5,726.8 L1305.0,727.2 L1306.5,727.7 L1308.0,728.1 L1309.5,728.5 L1311.0,728.9 L1312.5,729.3 L1314.0,729.7 L1315.5,730.1 L1317.0,730.5 L1318.5,730.9 L1320.0,731.3 L1321.5,731.7 L1323.0,732.0 L1324.5,732.4 L1326.0,732.8 L1327.5,733.2 L1329.0,733.6 L1330.5,734.1 L1332.0,734.5 L1333.5,735.0 L1335.0,735.5 L1336.5,735.9 L1338.0,736.4 L1339.5,736.9 L1341.0,737.4 L1342.5,737.8 L1344.0,738.3 L1345.5,738.7 L1347.0,739.1 L1348.5,739.4 L1350.0,739.8 L1351.5,740.1 L1353.0,740.4 L1354.5,740.7 L1356.0,741.0 L1357.5,741.3 L1359.0,741.6 L1360.5,741.9 L1362.0,742.2 L1363.5,742.6 L1365.0,742.9 L1366.5,743.3 L1368.0,743.7 L1369.5,744.1 L1371.0,744.5 L1372.5,744.9 L1374.0,745.2 L1375.5,745.6 L1377.0,746.0 L1378.5,746.4 L1380.0,746.8 L1381.5,747.2 L1383.0,747.6 L1384.5,747.9 L1386.0,748.3 L1387.5,748.7 L1389.0,749.0 L1390.5,749.4 L1392.0,749.7 L1393.5,749.9 L1395.0,750.2 L1396.5,750.5 L1398.0,750.8 L1399.5,751.2 L1401.0,751.5 L1402.5,751.9 L1404.0,752.3 L1405.5,752.6 L1407.0,752.9 L1408.5,753.2 L1410.0,753.4 L1411.5,753.5 L1413.0,753.6 L1414.5,753.7 L1416.0,753.8 L1417.5,753.9 L1419.0,754.2 L1420.5,754.4 L1422.0,754.7 L1423.5,754.9 L1425.0,755.2 L1426.5,755.5 L1428.0,755.7 L1429.5,755.9 L1431.0,756.2 L1432.5,756.3 L1434.0,756.5 L1435.5,756.6 L1437.0,756.7 L1438.5,756.8 L1440.0,756.9 L1441.5,757.1 L1443.0,757.3 L1444.5,757.5 L1446.0,757.8 L1447.5,758.1 L1449.0,758.5 L1450.5,758.8 L1452.0,759.1 L1453.5,759.4 L1455.0,759.7 L1456.5,759.9 L1458.0,760.2 L1459.5,760.4 L1461.0,760.5 L1462.5,760.7 L1464.0,760.8 L1465.5,760.7 L1467.0,760.6 L1468.5,760.4 L1470.0,760.2 L1471.5,760.0 L1473.0,760.0 L1474.5,760.0 L1476.0,760.2 L1477.5,760.5 L1479.0,760.8 L1480.5,761.1 L1482.0,761.4 L1483.5,761.7 L1485.0,761.9 L1486.5,762.2 L1488.0,762.4 L1489.5,762.6 L1491.0,762.9 L1492.5,763.1 L1494.0,763.2 L1495.5,763.3 L1497.0,763.2 L1498.5,763.1 L1500.0,763.0 L1501.5,762.9 L1503.0,762.8 L1504.5,762.8 L1506.0,762.9 L1507.5,763.0 L1509.0,763.2 L1510.5,763.4 L1512.0,763.6 L1513.5,763.8 L1515.0,764.0 L1516.5,764.1 L1518.0,764.3 L1519.5,764.5 L1521.0,764.6 L1522.5,764.6 L1524.0,764.7 L1525.5,764.7 L1527.0,764.6 L1528.5,764.6 L1530.0,764.6 L1531.5,764.5 L1533.0,764.5 L1534.5,764.5 L1536.0,764.6 L1537.5,764.7 L1539.0,764.8 L1540.5,765.0 L1542.0,765.2 L1543.5,765.4 L1545.0,765.6 L1546.5,765.8 L1548.0,766.0 L1549.5,766.2 L1551.0,766.3 L1552.5,766.4 L1554.0,766.5 L1555.5,766.5 L1557.0,766.5 L1558.5,766.4 L1560.0,766.3 L1561.5,766.2 L1563.0,766.1 L1564.5,766.0 L1566.0,766.0 L1567.5,766.0 L1569.0,766.0 L1570.5,766.1 L1572.0,766.2 L1573.5,766.3 L1575.0,766.5 L1576.5,766.6 L1578.0,766.8 L1579.5,766.9 L1581.0,767.1 L1582.5,767.2 L1584.0,767.4 L1585.5,767.4 L1587.0,767.5 L1588.5,767.5 L1590.0,767.6 L1591.5,767.6 L1593.0,767.7 L1594.5,767.7 L1596.0,767.7 L1597.5,767.7 L1599.0,767.8 L1600.5,767.8 L1602.0,767.8 L1603.5,767.8 L1605.0,767.9 L1606.5,767.9 L1608.0,767.9 L1609.5,767.9 L1611.0,767.9 L1612.5,767.9 L1614.0,767.9 L1615.5,767.9 L1617.0,767.9 L1618.5,767.9 L1620.0,767.9 L1621.5,767.9 L1623.0,767.9 L1624.5,767.9 L1626.0,768.0 L1627.5,768.1 L1629.0,768.3 L1630.5,768.5 L1632.0,768.6 L1633.5,768.8 L1635.0,769.0 L1636.5,769.2 L1638.0,769.4 L1639.5,769.6 L1641.0,769.7 L1642.5,769.8 L1644.0,769.9 L1645.5,769.9 L1647.0,769.9 L1648.5,770.0 L1650.0,770.0 L1651.5,770.0 L1653.0,770.0 L1654.5,770.0 L1656.0,770.1 L1657.5,770.1 L1659.0,770.1 L1660.5,770.1 L1662.0,770.2 L1663.5,770.2 L1664.0,770.2"/>
</g>
<line x1="126.0" y1="797.5" x2="1658.4" y2="797.5" stroke="#666666" stroke-width="0.55"/>
<g stroke="#666666" stroke-width="1.3" fill="none">
<path d="M126.0,948.4 H1658.4 V1.3 H126.0 Z"/>
</g>
<path d="M126.00,948.4 v-8.8 M126.00,1.3 v8.8 M174.65,948.4 v-5.0 M174.65,1.3 v5.0 M223.30,948.4 v-5.0 M223.30,1.3 v5.0 M271.95,948.4 v-5.0 M271.95,1.3 v5.0 M320.60,948.4 v-5.0 M320.60,1.3 v5.0 M369.25,948.4 v-8.8 M369.25,1.3 v8.8 M417.90,948.4 v-5.0 M417.90,1.3 v5.0 M466.55,948.4 v-5.0 M466.55,1.3 v5.0 M515.20,948.4 v-5.0 M515.20,1.3 v5.0 M563.85,948.4 v-5.0 M563.85,1.3 v5.0 M612.50,948.4 v-8.8 M612.50,1.3 v8.8 M661.15,948.4 v-5.0 M661.15,1.3 v5.0 M709.80,948.4 v-5.0 M709.80,1.3 v5.0 M758.45,948.4 v-5.0 M758.45,1.3 v5.0 M807.10,948.4 v-5.0 M807.10,1.3 v5.0 M855.75,948.4 v-8.8 M855.75,1.3 v8.8 M904.40,948.4 v-5.0 M904.40,1.3 v5.0 M953.05,948.4 v-5.0 M953.05,1.3 v5.0 M1001.70,948.4 v-5.0 M1001.70,1.3 v5.0 M1050.35,948.4 v-5.0 M1050.35,1.3 v5.0 M1099.00,948.4 v-8.8 M1099.00,1.3 v8.8 M1147.65,948.4 v-5.0 M1147.65,1.3 v5.0 M1196.30,948.4 v-5.0 M1196.30,1.3 v5.0 M1244.95,948.4 v-5.0 M1244.95,1.3 v5.0 M1293.60,948.4 v-5.0 M1293.60,1.3 v5.0 M1342.25,948.4 v-8.8 M1342.25,1.3 v8.8 M1390.90,948.4 v-5.0 M1390.90,1.3 v5.0 M1439.55,948.4 v-5.0 M1439.55,1.3 v5.0 M1488.20,948.4 v-5.0 M1488.20,1.3 v5.0 M1536.85,948.4 v-5.0 M1536.85,1.3 v5.0 M1585.50,948.4 v-8.8 M1585.50,1.3 v8.8 M1634.15,948.4 v-5.0 M1634.15,1.3 v5.0 M126.0,929.65 h5.0 M1658.4,929.65 h-5.0 M126.0,896.65 h5.0 M1658.4,896.65 h-5.0 M126.0,863.65 h5.0 M1658.4,863.65 h-5.0 M126.0,830.65 h5.0 M1658.4,830.65 h-5.0 M126.0,797.65 h8.8 M1658.4,797.65 h-8.8 M126.0,764.65 h5.0 M1658.4,764.65 h-5.0 M126.0,731.65 h5.0 M1658.4,731.65 h-5.0 M126.0,698.65 h5.0 M1658.4,698.65 h-5.0 M126.0,665.65 h5.0 M1658.4,665.65 h-5.0 M126.0,632.65 h8.8 M1658.4,632.65 h-8.8 M126.0,599.65 h5.0 M1658.4,599.65 h-5.0 M126.0,566.65 h5.0 M1658.4,566.65 h-5.0 M126.0,533.65 h5.0 M1658.4,533.65 h-5.0 M126.0,500.65 h5.0 M1658.4,500.65 h-5.0 M126.0,467.65 h8.8 M1658.4,467.65 h-8.8 M126.0,434.65 h5.0 M1658.4,434.65 h-5.0 M126.0,401.65 h5.0 M1658.4,401.65 h-5.0 M126.0,368.65 h5.0 M1658.4,368.65 h-5.0 M126.0,335.65 h5.0 M1658.4,335.65 h-5.0 M126.0,302.65 h8.8 M1658.4,302.65 h-8.8 M126.0,269.65 h5.0 M1658.4,269.65 h-5.0 M126.0,236.65 h5.0 M1658.4,236.65 h-5.0 M126.0,203.65 h5.0 M1658.4,203.65 h-5.0 M126.0,170.65 h5.0 M1658.4,170.65 h-5.0 M126.0,137.65 h8.8 M1658.4,137.65 h-8.8 M126.0,104.65 h5.0 M1658.4,104.65 h-5.0 M126.0,71.65 h5.0 M1658.4,71.65 h-5.0 M126.0,38.65 h5.0 M1658.4,38.65 h-5.0 M126.0,5.65 h5.0 M1658.4,5.65 h-5.0" stroke="#666666" stroke-width="1.2" fill="none"/>
<text class="tl" transform="translate(126.00,998.90) scale(1,1.04)" text-anchor="middle">0</text>
<text class="tl" transform="translate(369.25,998.90) scale(1,1.04)" text-anchor="middle">100</text>
<text class="tl" transform="translate(612.50,998.90) scale(1,1.04)" text-anchor="middle">200</text>
<text class="tl" transform="translate(855.75,998.90) scale(1,1.04)" text-anchor="middle">300</text>
<text class="tl" transform="translate(1099.00,998.90) scale(1,1.04)" text-anchor="middle">400</text>
<text class="tl" transform="translate(1342.25,998.90) scale(1,1.04)" text-anchor="middle">500</text>
<text class="tl" transform="translate(1585.50,998.90) scale(1,1.04)" text-anchor="middle">600</text>
<text class="tl" transform="translate(119.50,815.05) scale(1,1.04)" text-anchor="end">0</text>
<text class="tl" transform="translate(119.50,650.05) scale(1,1.04)" text-anchor="end">5</text>
<text class="tl" transform="translate(119.50,485.05) scale(1,1.04)" text-anchor="end">10</text>
<text class="tl" transform="translate(119.50,320.05) scale(1,1.04)" text-anchor="end">15</text>
<text class="tl" transform="translate(119.50,155.05) scale(1,1.04)" text-anchor="end">20</text>
<text class="al" transform="translate(892.40,1064.50)" text-anchor="middle">t (a.u.)</text>
<text class="al" transform="translate(43.00,474.60) rotate(-90)" text-anchor="middle">Mean value of z (a.u.)</text>
<line x1="142.8" y1="40.10" x2="186.4" y2="40.10" stroke="#000" stroke-width="3.7"/>
<text class="lg" transform="translate(206.40,53.05)" text-anchor="start">3D reference</text>
<line x1="142.8" y1="116.00" x2="186.4" y2="116.00" stroke="#0000ff" stroke-width="3.7"/>
<text class="lg" transform="translate(206.40,128.95)" text-anchor="start">SC potential</text>
<line x1="142.8" y1="191.90" x2="186.4" y2="191.90" stroke="#00ff00" stroke-width="3.7"/>
<text class="lg" transform="translate(206.40,204.85)" text-anchor="start">MSC potential</text>
<line x1="142.8" y1="267.80" x2="186.4" y2="267.80" stroke="#ff0000" stroke-width="3.7"/>
<text class="lg" transform="translate(206.40,280.75)" text-anchor="start">GSC potential</text>
</svg></body></html>
